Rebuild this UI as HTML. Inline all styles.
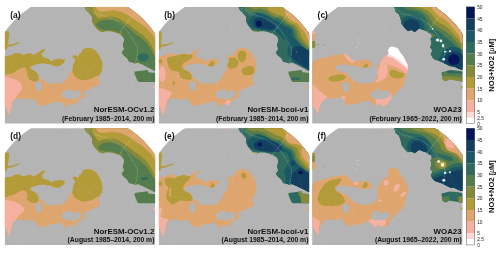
<!DOCTYPE html><html><head><meta charset="utf-8"><title>Nitrate maps</title>
<style>html,body{margin:0;padding:0;background:#fff}body{width:500px;height:253px;overflow:hidden}svg{display:block}text{font-family:"Liberation Sans",sans-serif}</style></head><body>
<svg width="500" height="253" viewBox="0 0 500 253">
<defs>
<clipPath id="pc"><circle cx="74.45" cy="76.8" r="90.75"/></clipPath>
<clipPath id="pr"><rect x="0" y="0" width="150.2" height="116.7"/></clipPath>
<clipPath id="m_a"><path d="M-2.0,49.4 L0.1,49.3 L7.2,48.2 L10.2,46.2 L15.3,46.6 L18.3,48.2 L25.3,46.2 L28.3,48.2 L32.4,46.2 L38.4,42.2 L40.4,43.2 L36.4,47.2 L38.4,50.3 L44.5,52.3 L45.5,54.3 L50.5,52.3 L55.6,51.9 L57.6,52.9 L59.9,52.1 L59.2,55.9 L56.2,58.2 L53.1,59.7 L48.6,58.9 L45.6,57.4 L43.5,57.3 L38.4,56.3 L31.4,57.3 L26.3,59.3 L25.3,61.3 L28.3,63.4 L31.4,65.0 L33.4,68.4 L34.4,72.4 L34.8,71.1 L38.4,73.1 L42.5,77.2 L48.5,76.2 L55.6,77.2 L61.6,72.1 L64.6,68.1 L63.7,66.4 L67.4,63.9 L68.2,58.2 L70.4,53.6 L68.9,51.4 L67.4,49.1 L70.4,48.4 L73.4,49.9 L74.2,46.9 L76.5,46.1 L77.6,42.6 L81.7,40.8 L86.6,41.3 L91.1,44.1 L94.9,49.1 L96.9,54.6 L97.7,59.1 L96.9,64.6 L93.7,69.4 L94.3,74.4 L95.1,78.6 L94.3,78.2 L90.1,79.3 L86.6,81.7 L82.7,82.9 L79.3,84.3 L79.9,86.9 L80.7,89.4 L77.8,91.1 L73.8,93.1 L71.1,96.3 L70.1,98.3 L64.6,96.3 L61.6,100.3 L59.6,98.3 L55.6,94.3 L51.5,95.3 L45.5,96.3 L40.4,98.3 L35.4,99.3 L32.4,96.3 L28.3,91.9 L21.3,92.3 L14.2,91.3 L10.2,92.3 L8.2,93.3 L7.2,98.3 L5.2,105.4 L4.2,108.4 L2.2,103.4 L0.1,98.3 L-2.0,98.4Z"/></clipPath>
<clipPath id="r_a"><path d="M78.9,-1.3 L80.8,3.2 L84.6,7.0 L87.1,10.1 L87.1,14.6 L89.0,18.4 L91.6,21.5 L94.1,24.0 L97.9,25.3 L100.4,24.4 L105.5,24.4 L110.5,25.6 L114.3,27.1 L117.5,29.1 L119.1,31.6 L119.2,33.9 L117.9,38.3 L119.2,42.1 L116.7,45.9 L118.6,48.4 L122.4,51.6 L124.3,55.1 L126.5,55.3 L130.6,56.5 L132.9,55.7 L137.6,57.7 L143.7,60.9 L152.1,65.1 L160.0,-5.0Z"/></clipPath>
<clipPath id="m_b"><path d="M-2.0,49.4 L0.1,49.3 L7.2,48.2 L10.2,46.2 L15.3,46.6 L18.3,48.2 L25.3,46.2 L28.3,48.2 L32.4,46.2 L38.4,42.2 L40.4,43.2 L36.4,47.2 L38.4,50.3 L44.5,52.3 L45.5,54.3 L50.5,52.3 L55.6,51.9 L57.6,52.9 L59.9,52.1 L59.2,55.9 L56.2,58.2 L53.1,59.7 L48.6,58.9 L45.6,57.4 L43.5,57.3 L38.4,56.3 L31.4,57.3 L26.3,59.3 L25.3,61.3 L28.3,63.4 L31.4,65.0 L33.4,68.4 L34.4,72.4 L34.8,71.1 L38.4,73.1 L42.5,77.2 L48.5,76.2 L55.6,77.2 L61.6,72.1 L64.6,68.1 L63.7,66.4 L67.4,63.9 L68.2,58.2 L70.4,53.6 L68.9,51.4 L67.4,49.1 L70.4,48.4 L73.4,49.9 L74.2,46.9 L76.5,46.1 L77.6,42.6 L81.7,40.8 L86.6,41.3 L91.1,44.1 L94.9,49.1 L96.9,54.6 L97.7,59.1 L96.9,64.6 L93.7,69.4 L94.3,74.4 L95.1,78.6 L94.3,78.2 L90.1,79.3 L86.6,81.7 L82.7,82.9 L79.3,84.3 L79.9,86.9 L80.7,89.4 L77.8,91.1 L73.8,93.1 L71.1,96.3 L70.1,98.3 L64.6,96.3 L61.6,100.3 L59.6,98.3 L55.6,94.3 L51.5,95.3 L45.5,96.3 L40.4,98.3 L35.4,99.3 L32.4,96.3 L28.3,91.9 L21.3,92.3 L14.2,91.3 L10.2,92.3 L8.2,93.3 L7.2,98.3 L5.2,105.4 L4.2,108.4 L2.2,103.4 L0.1,98.3 L-2.0,98.4Z"/></clipPath>
<clipPath id="r_b"><path d="M78.9,-1.3 L80.8,3.2 L84.6,7.0 L87.1,10.1 L87.1,14.6 L89.0,18.4 L91.6,21.5 L94.1,24.0 L97.9,25.3 L100.4,24.4 L105.5,24.4 L110.5,25.6 L114.3,27.1 L117.5,29.1 L119.1,31.6 L119.2,33.9 L117.9,38.3 L119.2,42.1 L116.7,45.9 L118.6,48.4 L122.4,51.6 L124.3,55.1 L126.5,55.3 L130.6,56.5 L132.9,55.7 L137.6,57.7 L143.7,60.9 L152.1,65.1 L160.0,-5.0Z"/></clipPath>
<clipPath id="m_d"><path d="M-2.0,49.4 L0.1,49.3 L7.2,48.2 L10.2,46.2 L15.3,46.6 L18.3,48.2 L25.3,46.2 L28.3,48.2 L32.4,46.2 L38.4,42.2 L40.4,43.2 L36.4,47.2 L38.4,50.3 L44.5,52.3 L45.5,54.3 L50.5,52.3 L55.6,51.9 L57.6,52.9 L59.9,52.1 L59.2,55.9 L56.2,58.2 L53.1,59.7 L48.6,58.9 L45.6,57.4 L43.5,57.3 L38.4,56.3 L31.4,57.3 L26.3,59.3 L25.3,61.3 L28.3,63.4 L31.4,65.0 L33.4,68.4 L34.4,72.4 L34.8,71.1 L38.4,73.1 L42.5,77.2 L48.5,76.2 L55.6,77.2 L61.6,72.1 L64.6,68.1 L63.7,66.4 L67.4,63.9 L68.2,58.2 L70.4,53.6 L68.9,51.4 L67.4,49.1 L70.4,48.4 L73.4,49.9 L74.2,46.9 L76.5,46.1 L77.6,42.6 L81.7,40.8 L86.6,41.3 L91.1,44.1 L94.9,49.1 L96.9,54.6 L97.7,59.1 L96.9,64.6 L93.7,69.4 L94.3,74.4 L95.1,78.6 L94.3,78.2 L90.1,79.3 L86.6,81.7 L82.7,82.9 L79.3,84.3 L79.9,86.9 L80.7,89.4 L77.8,91.1 L73.8,93.1 L71.1,96.3 L70.1,98.3 L64.6,96.3 L61.6,100.3 L59.6,98.3 L55.6,94.3 L51.5,95.3 L45.5,96.3 L40.4,98.3 L35.4,99.3 L32.4,96.3 L28.3,91.9 L21.3,92.3 L14.2,91.3 L10.2,92.3 L8.2,93.3 L7.2,98.3 L5.2,105.4 L4.2,108.4 L2.2,103.4 L0.1,98.3 L-2.0,98.4Z"/></clipPath>
<clipPath id="r_d"><path d="M78.9,-1.3 L80.8,3.2 L84.6,7.0 L87.1,10.1 L87.1,14.6 L89.0,18.4 L91.6,21.5 L94.1,24.0 L97.9,25.3 L100.4,24.4 L105.5,24.4 L110.5,25.6 L114.3,27.1 L117.5,29.1 L119.1,31.6 L119.2,33.9 L117.9,38.3 L119.2,42.1 L116.7,45.9 L118.6,48.4 L122.4,51.6 L124.3,55.1 L126.5,55.3 L130.6,56.5 L132.9,55.7 L137.6,57.7 L143.7,60.9 L152.1,65.1 L160.0,-5.0Z"/></clipPath>
<clipPath id="m_e"><path d="M-2.0,49.4 L0.1,49.3 L7.2,48.2 L10.2,46.2 L15.3,46.6 L18.3,48.2 L25.3,46.2 L28.3,48.2 L32.4,46.2 L38.4,42.2 L40.4,43.2 L36.4,47.2 L38.4,50.3 L44.5,52.3 L45.5,54.3 L50.5,52.3 L55.6,51.9 L57.6,52.9 L59.9,52.1 L59.2,55.9 L56.2,58.2 L53.1,59.7 L48.6,58.9 L45.6,57.4 L43.5,57.3 L38.4,56.3 L31.4,57.3 L26.3,59.3 L25.3,61.3 L28.3,63.4 L31.4,65.0 L33.4,68.4 L34.4,72.4 L34.8,71.1 L38.4,73.1 L42.5,77.2 L48.5,76.2 L55.6,77.2 L61.6,72.1 L64.6,68.1 L63.7,66.4 L67.4,63.9 L68.2,58.2 L70.4,53.6 L68.9,51.4 L67.4,49.1 L70.4,48.4 L73.4,49.9 L74.2,46.9 L76.5,46.1 L77.6,42.6 L81.7,40.8 L86.6,41.3 L91.1,44.1 L94.9,49.1 L96.9,54.6 L97.7,59.1 L96.9,64.6 L93.7,69.4 L94.3,74.4 L95.1,78.6 L94.3,78.2 L90.1,79.3 L86.6,81.7 L82.7,82.9 L79.3,84.3 L79.9,86.9 L80.7,89.4 L77.8,91.1 L73.8,93.1 L71.1,96.3 L70.1,98.3 L64.6,96.3 L61.6,100.3 L59.6,98.3 L55.6,94.3 L51.5,95.3 L45.5,96.3 L40.4,98.3 L35.4,99.3 L32.4,96.3 L28.3,91.9 L21.3,92.3 L14.2,91.3 L10.2,92.3 L8.2,93.3 L7.2,98.3 L5.2,105.4 L4.2,108.4 L2.2,103.4 L0.1,98.3 L-2.0,98.4Z"/></clipPath>
<clipPath id="r_e"><path d="M78.9,-1.3 L80.8,3.2 L84.6,7.0 L87.1,10.1 L87.1,14.6 L89.0,18.4 L91.6,21.5 L94.1,24.0 L97.9,25.3 L100.4,24.4 L105.5,24.4 L110.5,25.6 L114.3,27.1 L117.5,29.1 L119.1,31.6 L119.2,33.9 L117.9,38.3 L119.2,42.1 L116.7,45.9 L118.6,48.4 L122.4,51.6 L124.3,55.1 L126.5,55.3 L130.6,56.5 L132.9,55.7 L137.6,57.7 L143.7,60.9 L152.1,65.1 L160.0,-5.0Z"/></clipPath>
<clipPath id="wm"><path d="M-2.0,54.8 L0.2,54.7 L4.9,53.7 L6.9,51.5 L12.9,50.9 L18.0,49.5 L22.0,48.0 L28.0,47.6 L32.1,46.4 L35.1,48.2 L39.1,52.3 L43.2,54.3 L48.2,53.3 L52.2,52.3 L56.3,53.3 L60.3,57.3 L65.3,59.3 L68.3,55.3 L71.4,50.3 L75.8,48.2 L76.8,42.2 L80.9,41.2 L85.9,43.2 L91.0,49.3 L95.0,57.3 L96.0,62.3 L94.0,68.4 L93.0,73.4 L94.0,80.1 L93.0,74.1 L92.0,78.2 L88.9,81.2 L85.9,84.2 L82.9,87.2 L79.9,90.3 L76.8,95.3 L73.8,98.3 L70.8,99.3 L66.3,96.3 L63.3,99.3 L60.3,96.3 L56.3,93.3 L52.2,94.3 L46.2,96.3 L39.1,97.3 L35.1,98.3 L33.1,95.3 L29.0,90.7 L24.0,91.3 L18.0,91.9 L14.7,91.1 L11.9,93.1 L9.1,95.9 L7.5,100.7 L5.9,107.4 L3.5,102.8 L0.2,98.3 L-2.0,98.4Z"/></clipPath>
<clipPath id="wr"><path d="M81.3,-2.9 L83.4,4.9 L86.9,7.5 L88.6,12.8 L89.5,17.1 L93.0,21.5 L95.6,24.1 L99.1,23.2 L102.6,25.0 L106.9,21.5 L111.3,23.2 L113.8,24.0 L116.7,26.0 L119.2,27.4 L119.7,29.9 L118.2,32.4 L119.2,34.9 L119.1,37.1 L118.0,40.4 L120.2,43.7 L118.6,47.1 L120.2,50.4 L122.4,52.6 L125.8,53.7 L130.2,55.4 L133.5,57.0 L137.9,59.2 L142.4,59.8 L146.8,62.0 L153.8,63.6 L160.0,-5.0Z"/></clipPath>
<clipPath id="wk"><path d="M129.2,65.4 L137.3,63.4 L144.4,63.8 L153.4,65.4 L153.4,75.4 L137.3,72.4 L133.3,74.4 L130.2,72.4Z"/></clipPath>
<clipPath id="k_e"><path d="M129.6,64.7 L142.8,63.1 L143.5,65.4 L152.1,66.1 L152.1,75.1 L133.8,75.1 L132.4,73.7 L131.0,70.2 L129.6,66.8Z"/></clipPath>
</defs>
<g transform="translate(4.9 6.9)"><g clip-path="url(#pr)"><g clip-path="url(#pc)">
<rect x="-5" y="-5" width="170" height="130" fill="#b4b4b4"/>
<polygon points="-2.0,49.4 0.1,49.3 7.2,48.2 10.2,46.2 15.3,46.6 18.3,48.2 25.3,46.2 28.3,48.2 32.4,46.2 38.4,42.2 40.4,43.2 36.4,47.2 38.4,50.3 44.5,52.3 45.5,54.3 50.5,52.3 55.6,51.9 57.6,52.9 59.9,52.1 59.2,55.9 56.2,58.2 53.1,59.7 48.6,58.9 45.6,57.4 43.5,57.3 38.4,56.3 31.4,57.3 26.3,59.3 25.3,61.3 28.3,63.4 31.4,65.0 33.4,68.4 34.4,72.4 34.8,71.1 38.4,73.1 42.5,77.2 48.5,76.2 55.6,77.2 61.6,72.1 64.6,68.1 63.7,66.4 67.4,63.9 68.2,58.2 70.4,53.6 68.9,51.4 67.4,49.1 70.4,48.4 73.4,49.9 74.2,46.9 76.5,46.1 77.6,42.6 81.7,40.8 86.6,41.3 91.1,44.1 94.9,49.1 96.9,54.6 97.7,59.1 96.9,64.6 93.7,69.4 94.3,74.4 95.1,78.6 94.3,78.2 90.1,79.3 86.6,81.7 82.7,82.9 79.3,84.3 79.9,86.9 80.7,89.4 77.8,91.1 73.8,93.1 71.1,96.3 70.1,98.3 64.6,96.3 61.6,100.3 59.6,98.3 55.6,94.3 51.5,95.3 45.5,96.3 40.4,98.3 35.4,99.3 32.4,96.3 28.3,91.9 21.3,92.3 14.2,91.3 10.2,92.3 8.2,93.3 7.2,98.3 5.2,105.4 4.2,108.4 2.2,103.4 0.1,98.3 -2.0,98.4" fill="#dfa56e"/>
<g clip-path="url(#m_a)">
<path d="M-7.7,67.6C-6.4,74.3 -2.5,67.9 0.1,67.6C2.6,67.4 5.4,67.0 7.5,66.3C9.7,65.5 11.2,63.9 13.1,62.9C14.9,62.0 17.2,60.9 18.6,60.7C20.0,60.6 20.7,60.7 21.4,62.1C22.0,63.5 22.0,67.2 22.7,69.0C23.4,70.9 24.1,72.3 25.5,73.2C26.9,74.1 29.6,74.8 31.0,74.6C32.4,74.3 33.2,72.9 33.8,71.8C34.3,70.6 33.4,68.6 34.3,67.6C35.3,66.7 36.6,67.0 39.3,66.3C42.0,65.6 46.9,64.9 50.4,63.5C53.8,62.1 58.2,60.3 60.0,58.0C61.9,55.7 60.2,48.5 61.4,49.7C62.7,50.8 65.9,61.4 67.5,64.9C69.1,68.3 69.4,69.0 71.1,70.4C72.9,71.8 75.5,72.9 78.0,73.2C80.5,73.4 84.0,72.5 86.3,71.8C88.6,71.1 90.2,70.0 91.8,69.0C93.4,68.1 94.6,69.5 96.0,66.3C97.4,63.0 99.4,56.1 100.1,49.7C100.8,43.2 118.1,31.3 100.1,27.6C82.2,23.9 10.3,20.9 -7.7,27.6C-25.6,34.3 -9.0,61.0 -7.7,67.6Z" fill="#b39b39"/>
<path d="M-6.9,68.1C-5.7,61.2 -2.2,68.7 0.1,69.3C2.5,69.9 4.8,70.9 7.2,71.7C9.5,72.6 12.6,73.1 14.2,74.5C15.9,76.0 16.9,78.7 17.3,80.2C17.6,81.6 16.9,82.0 16.3,83.2C15.6,84.4 14.2,85.7 13.2,87.2C12.2,88.8 11.1,91.3 10.2,92.3C9.4,93.3 8.7,92.3 8.2,93.3C7.7,94.3 7.7,96.3 7.2,98.3C6.7,100.3 5.7,103.4 5.2,105.4C4.7,107.4 6.2,109.6 4.2,110.4C2.2,111.3 -5.1,117.5 -6.9,110.4C-8.8,103.4 -8.1,75.0 -6.9,68.1Z" fill="#f5b09f"/>
</g>
<polygon points="30.4,75.2 35.4,74.1 37.4,78.2 36.4,83.2 32.4,84.2 30.4,80.2" fill="#b4b4b4"/>
<polygon points="56.6,86.2 61.6,83.2 65.6,82.2 68.7,85.2 72.7,83.2 75.7,84.2 76.7,88.3 75.1,90.3 68.7,92.3 61.6,91.9 57.6,90.3" fill="#b4b4b4"/>
<polygon points="-1.9,24.3 3.7,24.3 4.4,28.1 3.5,33.1 2.7,37.7 7.1,37.5 13.9,35.0 14.7,36.1 7.4,39.0 2.5,39.9 2.0,42.5 -1.9,42.5" fill="#b39b39"/>
<g clip-path="url(#r_a)">
<rect x="60" y="-5" width="100" height="90" fill="#848a3a"/>
<path d="M86.1,-2.9C86.5,-0.6 87.8,2.0 88.6,4.0C89.4,6.0 90.2,7.6 91.1,8.9C92.0,10.2 92.8,11.6 93.9,11.9C95.0,12.2 96.4,11.1 97.9,10.7C99.4,10.3 101.1,9.6 102.9,9.5C104.7,9.4 106.9,9.7 108.9,10.1C110.9,10.5 113.1,11.2 114.9,12.0C116.7,12.8 118.3,14.1 119.9,15.1C121.5,16.1 122.8,17.1 124.3,18.2C125.8,19.3 127.2,20.5 128.8,21.7C130.4,22.9 132.7,24.3 134.1,25.3C135.5,26.3 135.8,26.7 137.1,27.7C138.3,28.7 140.2,30.0 141.6,31.5C143.0,33.0 144.3,35.0 145.4,36.6C146.5,38.2 147.2,40.0 147.9,41.4C148.6,42.8 148.7,43.6 149.4,45.1C150.1,46.6 148.7,49.3 152.1,50.1C155.5,50.9 167.0,60.1 170.0,50.1C173.0,40.1 184.0,0.0 170.0,-10.0C156.0,-20.0 100.1,-11.2 86.1,-10.0C72.1,-8.8 85.7,-5.2 86.1,-2.9Z" fill="#b39b39"/>
<path d="M89.9,-2.9C90.2,-1.0 91.0,0.4 91.7,1.6C92.4,2.8 93.0,3.5 93.9,4.0C94.8,4.5 95.7,4.6 97.1,4.7C98.5,4.8 100.2,4.6 102.1,4.4C104.0,4.2 106.1,3.6 108.3,3.7C110.5,3.7 112.9,4.1 115.1,4.7C117.3,5.3 119.8,6.6 121.7,7.5C123.6,8.4 125.1,9.3 126.3,10.1C127.5,10.8 127.2,11.0 128.7,12.0C130.2,13.0 133.2,14.8 135.3,16.3C137.4,17.8 139.6,19.6 141.3,21.1C143.0,22.6 144.3,23.9 145.6,25.3C146.8,26.7 148.0,28.0 148.8,29.7C149.6,31.5 149.8,33.6 150.4,35.8C151.0,38.0 148.8,41.9 152.1,43.1C155.4,44.3 167.0,52.0 170.0,43.1C173.0,34.2 183.3,-1.2 170.0,-10.0C156.7,-18.9 103.2,-11.2 89.9,-10.0C76.5,-8.8 89.6,-4.8 89.9,-2.9Z" fill="#dfa56e"/>
<path d="M91.3,17.7C91.4,16.9 92.2,16.1 93.2,15.4C94.2,14.8 95.6,14.1 97.3,13.7C98.9,13.2 100.9,12.8 102.9,12.8C105.0,12.7 107.2,12.8 109.3,13.3C111.3,13.8 113.5,14.7 115.4,15.6C117.2,16.5 118.7,17.7 120.2,18.7C121.7,19.8 122.6,20.5 124.3,21.9C126.0,23.3 128.8,25.7 130.6,27.1C132.4,28.5 133.8,29.0 135.4,30.3C137.0,31.6 138.9,33.3 140.4,34.9C141.9,36.5 143.0,38.0 144.2,39.7C145.4,41.4 146.6,43.5 147.5,45.1C148.4,46.7 148.7,47.6 149.6,49.1C150.5,50.6 149.7,47.3 153.1,54.1C156.5,60.9 177.2,84.0 170.0,90.0C162.8,96.0 118.9,100.1 110.0,90.0C101.1,79.9 116.1,39.7 116.9,29.1C117.6,18.5 115.6,27.0 114.6,26.2C113.5,25.4 112.1,24.7 110.5,24.2C109.0,23.7 106.9,23.4 105.5,23.3C104.1,23.1 103.7,23.4 102.3,23.3C100.9,23.2 98.8,23.0 97.3,22.5C95.7,22.0 93.8,21.1 92.8,20.3C91.8,19.5 91.2,18.5 91.3,17.7Z" fill="#547c4d"/>
<ellipse cx="138.5" cy="50.4" rx="5.4" ry="4.0" fill="#2e6b5e"/>
<g stroke="#ffffff" stroke-width="0.6" fill="none" opacity="0.45"><path stroke-dasharray="1.5 1.0" d="M84.0,5.6C78.2,-4.3 88.6,6.2 91.1,6.7C93.6,7.2 96.3,7.9 99.0,8.8C101.7,9.7 104.8,10.9 107.1,11.9C109.4,12.9 111.2,13.8 113.0,15.0C114.8,16.2 116.4,17.2 118.1,18.9C119.8,20.6 121.3,22.6 123.1,25.1C124.8,27.6 127.1,31.5 128.6,34.1C130.1,36.7 131.4,38.8 132.1,40.6C132.8,42.4 132.7,43.0 132.6,45.1C132.5,47.2 131.9,50.6 131.3,53.1C130.7,55.6 129.9,57.9 129.0,60.0C128.1,62.1 133.5,75.1 126.0,66.0" fill="none"/><line stroke-dasharray="1.4 1.0" x1="86.8" y1="61.0" x2="160.6" y2="-33.5"/></g>
</g>
<polygon points="129.6,64.7 142.8,63.1 143.5,65.4 152.1,66.1 152.1,75.1 133.8,75.1 132.4,73.7 131.0,70.2 129.6,66.8" fill="#547c4d"/>
<polygon points="147.7,79.2 150.7,79.2 150.7,82.2 148.7,82.2" fill="#f5b09f"/>
<g stroke="#ffffff" stroke-width="0.5" fill="none" opacity="0.16" stroke-dasharray="1.3 0.9">
<circle cx="74.5" cy="76.8" r="17.0"/>
<circle cx="74.5" cy="76.8" r="34.3"/>
<circle cx="74.5" cy="76.8" r="52.1"/>
<circle cx="74.5" cy="76.8" r="70.8"/>
<line x1="74.2" y1="68.8" x2="69.6" y2="-63.1"/>
<line x1="79.4" y1="70.5" x2="160.6" y2="-33.5"/>
<line x1="82.3" y1="75.1" x2="211.4" y2="47.7"/>
<line x1="81.5" y1="80.6" x2="198.1" y2="142.5"/>
<line x1="77.4" y1="84.2" x2="126.9" y2="206.6"/>
<line x1="72.0" y1="84.4" x2="31.2" y2="209.9"/>
<line x1="67.7" y1="81.0" x2="-44.3" y2="151.0"/>
<line x1="66.5" y1="75.7" x2="-64.2" y2="57.3"/>
<line x1="69.1" y1="70.9" x2="-19.2" y2="-27.2"/>
</g>
</g></g>
<text x="5.4" y="11.1" font-size="8.4" font-weight="bold" fill="#111">(a)</text>
<text transform="translate(149.4 105.5) scale(1.053 1)" font-size="7.5" font-weight="bold" text-anchor="end" fill="#111">NorESM-OCv1.2</text>
<text transform="translate(149.5 113.9) scale(1.046 1)" font-size="6.5" font-weight="bold" text-anchor="end" fill="#111">(February 1985<tspan font-size="4.9" dx="0.3" dy="-0.5">−</tspan><tspan dx="0.3" dy="0.5">2014</tspan>, 200 m)</text>
</g>
<g transform="translate(158.9 6.9)"><g clip-path="url(#pr)"><g clip-path="url(#pc)">
<rect x="-5" y="-5" width="170" height="130" fill="#b4b4b4"/>
<polygon points="-2.0,49.4 0.1,49.3 7.2,48.2 10.2,46.2 15.3,46.6 18.3,48.2 25.3,46.2 28.3,48.2 32.4,46.2 38.4,42.2 40.4,43.2 36.4,47.2 38.4,50.3 44.5,52.3 45.5,54.3 50.5,52.3 55.6,51.9 57.6,52.9 59.9,52.1 59.2,55.9 56.2,58.2 53.1,59.7 48.6,58.9 45.6,57.4 43.5,57.3 38.4,56.3 31.4,57.3 26.3,59.3 25.3,61.3 28.3,63.4 31.4,65.0 33.4,68.4 34.4,72.4 34.8,71.1 38.4,73.1 42.5,77.2 48.5,76.2 55.6,77.2 61.6,72.1 64.6,68.1 63.7,66.4 67.4,63.9 68.2,58.2 70.4,53.6 68.9,51.4 67.4,49.1 70.4,48.4 73.4,49.9 74.2,46.9 76.5,46.1 77.6,42.6 81.7,40.8 86.6,41.3 91.1,44.1 94.9,49.1 96.9,54.6 97.7,59.1 96.9,64.6 93.7,69.4 94.3,74.4 95.1,78.6 94.3,78.2 90.1,79.3 86.6,81.7 82.7,82.9 79.3,84.3 79.9,86.9 80.7,89.4 77.8,91.1 73.8,93.1 71.1,96.3 70.1,98.3 64.6,96.3 61.6,100.3 59.6,98.3 55.6,94.3 51.5,95.3 45.5,96.3 40.4,98.3 35.4,99.3 32.4,96.3 28.3,91.9 21.3,92.3 14.2,91.3 10.2,92.3 8.2,93.3 7.2,98.3 5.2,105.4 4.2,108.4 2.2,103.4 0.1,98.3 -2.0,98.4" fill="#dfa56e"/>
<g clip-path="url(#m_b)">
<path d="M8.2,51.3C9.0,49.9 12.2,49.8 14.2,49.3C16.3,48.7 18.3,48.6 20.3,48.2C22.3,47.8 24.1,46.8 26.3,46.8C28.5,46.8 32.4,47.5 33.4,48.2C34.4,49.0 33.2,50.3 32.4,51.3C31.5,52.3 29.7,53.4 28.3,54.3C27.0,55.1 25.2,55.3 24.3,56.3C23.5,57.3 23.0,59.2 23.3,60.3C23.6,61.5 25.2,62.5 26.3,63.4C27.5,64.2 29.3,64.5 30.4,65.4C31.4,66.2 32.0,67.2 32.4,68.4C32.7,69.6 33.4,71.8 32.4,72.4C31.4,73.1 28.2,72.8 26.3,72.4C24.5,72.1 22.3,71.6 21.3,70.4C20.3,69.2 21.1,66.4 20.3,65.4C19.4,64.4 17.8,64.9 16.3,64.4C14.7,63.9 12.4,63.5 11.2,62.3C10.0,61.2 9.7,59.2 9.2,57.3C8.7,55.5 7.4,52.6 8.2,51.3Z" fill="#b39b39"/>
<path d="M49.5,59.3C49.2,58.5 51.5,55.0 52.5,54.3C53.5,53.6 55.2,54.5 55.5,55.3C55.9,56.1 55.5,58.7 54.5,59.3C53.5,60.0 49.8,60.2 49.5,59.3Z" fill="#b39b39"/>
<path d="M79.2,46.2C79.8,44.8 81.8,43.6 83.2,43.6C84.5,43.6 86.6,44.8 87.2,46.2C87.8,47.7 87.5,50.8 86.8,52.3C86.1,53.8 84.4,55.3 83.2,55.3C82.0,55.3 80.2,53.8 79.6,52.3C78.9,50.8 78.6,47.7 79.2,46.2Z" fill="#b39b39"/>
<path d="M83.2,62.3C83.9,61.0 86.4,59.7 88.2,59.3C90.1,59.0 93.1,59.3 94.3,60.3C95.4,61.3 96.0,64.0 95.3,65.4C94.6,66.7 92.1,68.1 90.2,68.4C88.4,68.7 85.4,68.4 84.2,67.4C83.0,66.4 82.5,63.7 83.2,62.3Z" fill="#b39b39"/>
<path d="M69.1,52.3C70.1,50.7 73.5,50.5 75.1,50.9C76.8,51.2 78.7,52.9 79.2,54.3C79.7,55.7 79.2,58.1 78.2,59.3C77.1,60.6 74.6,61.6 73.1,61.7C71.6,61.9 69.8,61.9 69.1,60.3C68.4,58.8 68.1,53.9 69.1,52.3Z" fill="#b39b39"/>
<ellipse cx="3.3" cy="67.1" rx="3.6" ry="7.7" fill="#f5b09f"/>
<polygon points="-1.9,52.3 3.2,52.3 3.2,56.3 -1.9,56.3" fill="#b39b39"/>
<path d="M-3.9,80.2C-3.2,75.3 -1.4,80.9 0.1,81.2C1.6,81.5 3.2,81.5 5.2,82.2C7.2,82.9 11.0,84.2 12.2,85.2C13.4,86.2 12.7,87.1 12.2,88.3C11.7,89.4 10.0,90.6 9.2,92.3C8.4,94.0 7.9,95.3 7.2,98.3C6.5,101.3 7.0,108.4 5.2,110.4C3.3,112.4 -2.4,115.5 -3.9,110.4C-5.4,105.4 -4.6,85.1 -3.9,80.2Z" fill="#f5b09f"/>
<path d="M65.6,96.3C65.9,95.3 67.6,93.6 68.6,93.3C69.7,93.0 71.3,93.5 71.7,94.3C72.1,95.1 71.8,97.5 71.1,98.3C70.3,99.2 67.9,99.7 67.0,99.3C66.1,99.0 65.4,97.3 65.6,96.3Z" fill="#f5b09f"/>
<polygon points="13.8,74.1 15.8,74.1 15.8,78.2 13.8,78.2" fill="#b39b39"/>
</g>
<polygon points="30.4,75.2 35.4,74.1 37.4,78.2 36.4,83.2 32.4,84.2 30.4,80.2" fill="#b4b4b4"/>
<polygon points="56.6,86.2 61.6,83.2 65.6,82.2 68.7,85.2 72.7,83.2 75.7,84.2 76.7,88.3 75.1,90.3 68.7,92.3 61.6,91.9 57.6,90.3" fill="#b4b4b4"/>
<polygon points="-1.9,24.3 2.7,24.3 3.0,28.1 2.5,33.1 2.1,37.9 7.1,37.5 13.9,35.0 14.7,36.1 7.4,39.0 2.1,39.9 1.7,42.5 -1.9,42.5" fill="#b39b39"/>
<g clip-path="url(#r_b)">
<rect x="60" y="-5" width="100" height="90" fill="#2e6b5e"/>
<path d="M89.6,14.6C89.9,13.4 90.6,12.1 92.1,10.8C93.6,9.4 96.3,6.9 98.4,6.3C100.5,5.8 102.6,6.9 104.7,7.6C106.9,8.3 109.8,9.9 111.1,10.8C112.4,11.6 111.4,12.1 112.5,12.7C113.6,13.2 116.1,13.4 117.6,13.9C119.0,14.5 120.1,15.0 121.4,15.8C122.6,16.7 123.8,18.1 125.2,19.0C126.5,19.8 128.3,20.1 129.6,20.9C130.8,21.6 132.1,22.4 132.7,23.4C133.4,24.5 133.1,26.1 133.4,27.2C133.6,28.3 133.5,29.1 134.3,30.1C135.0,31.1 136.4,32.1 137.8,33.2C139.2,34.4 141.4,36.0 142.9,37.0C144.3,38.1 144.8,38.7 146.7,39.6C148.6,40.4 153.0,38.5 154.3,42.1C155.5,45.7 154.9,57.4 154.3,61.1C153.7,64.8 152.5,64.6 150.7,64.4C148.9,64.1 145.8,61.0 143.6,59.7C141.5,58.5 139.6,57.9 137.6,56.7C135.6,55.5 133.1,54.6 131.6,52.7C130.0,50.8 128.8,47.8 128.5,45.2C128.3,42.6 129.9,39.7 129.9,37.2C129.9,34.6 128.2,29.0 128.5,30.1C128.9,31.2 131.6,42.4 132.1,44.0C132.6,45.6 132.1,41.0 131.5,39.6C130.8,38.1 129.6,36.5 128.3,35.1C127.0,33.8 125.9,33.2 123.9,31.3C121.9,29.5 118.3,25.3 116.1,24.0C114.0,22.8 112.8,24.2 111.1,24.0C109.4,23.9 108.1,23.7 106.0,23.4C103.9,23.1 100.5,22.6 98.4,22.2C96.3,21.7 94.7,21.6 93.4,20.9C92.0,20.1 90.8,18.8 90.2,17.7C89.6,16.7 89.2,15.7 89.6,14.6Z" fill="#1a5963"/>
<path d="M95.3,12.7C96.4,11.3 100.0,10.0 102.2,10.1C104.4,10.2 106.4,12.1 108.5,13.3C110.7,14.5 113.5,15.9 114.9,17.1C116.2,18.2 116.9,19.3 116.5,20.3C116.1,21.2 114.1,22.5 112.3,22.8C110.6,23.1 108.3,22.5 106.0,22.2C103.7,21.8 100.2,21.5 98.4,20.9C96.6,20.3 95.8,19.7 95.3,18.4C94.7,17.0 94.1,14.0 95.3,12.7Z" fill="#123f5f"/>
<ellipse cx="100.0" cy="16.9" rx="2.8" ry="3.0" fill="#041659"/>
<path d="M132.8,46.1C132.9,44.8 132.8,43.3 133.3,42.3C133.8,41.3 134.6,40.4 135.8,39.9C137.0,39.4 139.1,39.2 140.7,39.4C142.4,39.6 143.6,40.3 145.7,40.9C147.8,41.5 151.8,39.5 153.1,43.1C154.4,46.7 155.3,59.9 153.7,62.4C152.1,64.9 146.3,59.7 143.6,58.3C140.9,57.0 139.4,55.6 137.6,54.3C135.8,53.0 133.4,51.7 132.6,50.3C131.8,48.9 132.7,47.4 132.8,46.1Z" fill="#123f5f"/>
<ellipse cx="137.7" cy="44.7" rx="0.9" ry="0.9" fill="#55508c"/>
<path d="M84.5,-1.3C84.9,1.0 85.8,2.6 87.0,3.8C88.3,5.0 90.2,5.7 92.1,5.9C94.0,6.2 96.3,4.9 98.4,5.1C100.5,5.2 103.0,6.2 104.7,6.7C106.5,7.2 107.2,7.6 108.7,8.2C110.2,8.9 111.9,10.1 113.8,10.8C115.7,11.4 118.5,11.4 120.1,12.0C121.7,12.7 122.2,13.6 123.3,14.6C124.3,15.5 125.2,16.9 126.4,17.7C127.7,18.6 129.6,18.9 130.8,19.6C132.1,20.4 133.2,21.0 134.0,22.2C134.9,23.3 135.5,25.3 135.9,26.6C136.3,27.9 136.0,28.8 136.5,30.1C137.1,31.4 137.8,32.9 139.1,34.5C140.3,36.1 142.0,38.0 144.1,39.6C146.2,41.1 147.4,43.2 151.7,44.0C156.0,44.7 167.0,53.0 170.0,44.0C173.0,35.0 184.3,-1.0 170.0,-10.0C155.7,-19.0 98.7,-11.5 84.5,-10.0C70.2,-8.5 84.1,-3.6 84.5,-1.3Z" fill="#547c4d"/>
<path d="M89.6,-1.3C90.4,0.8 92.7,2.0 94.6,2.5C96.5,3.1 99.3,1.8 100.9,1.9C102.6,2.0 103.7,2.8 104.7,3.2C105.8,3.5 106.2,3.1 107.4,3.8C108.6,4.5 110.2,6.5 111.9,7.6C113.5,8.6 115.8,9.6 117.6,10.1C119.3,10.7 121.4,10.2 122.6,10.8C123.9,11.3 124.2,12.3 125.2,13.3C126.1,14.2 127.0,15.6 128.3,16.5C129.6,17.3 131.6,17.7 132.7,18.4C133.9,19.0 134.4,19.2 135.3,20.3C136.1,21.3 137.2,23.0 137.8,24.7C138.4,26.3 138.4,28.7 139.1,30.1C139.7,31.5 140.6,32.0 141.6,33.2C142.7,34.5 143.7,36.2 145.4,37.7C147.1,39.1 147.6,41.3 151.7,42.1C155.8,42.8 167.0,50.8 170.0,42.1C173.0,33.4 183.4,-1.3 170.0,-10.0C156.6,-18.7 103.0,-11.5 89.6,-10.0C76.1,-8.5 88.7,-3.4 89.6,-1.3Z" fill="#848a3a"/>
<path d="M108.1,-1.3C108.4,0.9 109.0,2.0 110.0,3.2C110.9,4.3 112.3,4.9 113.8,5.7C115.2,6.5 117.2,7.7 118.8,8.2C120.4,8.8 122.1,8.4 123.3,8.9C124.4,9.3 124.9,9.9 125.8,10.8C126.6,11.6 127.2,13.0 128.3,13.9C129.5,14.9 131.4,15.7 132.7,16.5C134.1,17.2 135.5,17.4 136.5,18.4C137.6,19.3 138.3,20.9 139.1,22.2C139.8,23.4 140.3,24.6 141.0,25.9C141.6,27.3 142.2,28.9 142.9,30.1C143.5,31.3 143.9,32.1 144.8,33.2C145.6,34.4 146.8,35.9 147.9,37.0C149.1,38.2 148.1,39.7 151.7,40.2C155.4,40.7 167.0,48.6 170.0,40.2C173.0,31.8 180.3,-1.6 170.0,-10.0C159.7,-18.4 118.4,-11.5 108.1,-10.0C97.7,-8.5 107.7,-3.5 108.1,-1.3Z" fill="#b39b39"/>
<path d="M123.3,-1.3C123.7,1.0 125.2,2.2 125.8,3.8C126.4,5.4 126.2,6.9 127.0,8.2C127.9,9.6 129.5,10.9 130.8,12.0C132.2,13.2 133.9,14.3 135.3,15.2C136.6,16.0 138.0,16.2 139.1,17.1C140.1,17.9 140.8,19.2 141.6,20.3C142.5,21.3 143.3,22.3 144.1,23.4C145.0,24.6 146.0,26.1 146.7,27.2C147.3,28.3 147.6,29.3 147.9,30.1C148.3,30.9 147.9,31.1 148.6,32.0C149.2,32.8 148.2,34.6 151.7,35.1C155.3,35.7 167.0,42.6 170.0,35.1C173.0,27.6 177.8,-2.5 170.0,-10.0C162.2,-17.5 131.0,-11.5 123.3,-10.0C115.5,-8.5 122.8,-3.6 123.3,-1.3Z" fill="#dfa56e"/>
<polygon points="93.4,23.8 98.4,23.8 98.4,25.4 93.4,25.4" fill="#b39b39"/>
<g stroke="#ffffff" stroke-width="0.6" fill="none" opacity="0.45"><path stroke-dasharray="1.5 1.0" d="M84.0,5.6C78.2,-4.3 88.6,6.2 91.1,6.7C93.6,7.2 96.3,7.9 99.0,8.8C101.7,9.7 104.8,10.9 107.1,11.9C109.4,12.9 111.2,13.8 113.0,15.0C114.8,16.2 116.4,17.2 118.1,18.9C119.8,20.6 121.3,22.6 123.1,25.1C124.8,27.6 127.1,31.5 128.6,34.1C130.1,36.7 131.4,38.8 132.1,40.6C132.8,42.4 132.7,43.0 132.6,45.1C132.5,47.2 131.9,50.6 131.3,53.1C130.7,55.6 129.9,57.9 129.0,60.0C128.1,62.1 133.5,75.1 126.0,66.0" fill="none"/><line stroke-dasharray="1.4 1.0" x1="86.8" y1="61.0" x2="160.6" y2="-33.5"/></g>
</g>
<polygon points="129.6,64.7 142.8,63.1 143.5,65.4 152.1,66.1 152.1,75.1 133.8,75.1 132.4,73.7 131.0,70.2 129.6,66.8" fill="#547c4d"/>
<ellipse cx="136.7" cy="71.9" rx="4.5" ry="1.2" fill="#2e6b5e"/>
<polygon points="147.7,79.2 150.7,79.2 150.7,82.2 148.7,82.2" fill="#dfa56e"/>
<g stroke="#ffffff" stroke-width="0.5" fill="none" opacity="0.16" stroke-dasharray="1.3 0.9">
<circle cx="74.5" cy="76.8" r="17.0"/>
<circle cx="74.5" cy="76.8" r="34.3"/>
<circle cx="74.5" cy="76.8" r="52.1"/>
<circle cx="74.5" cy="76.8" r="70.8"/>
<line x1="74.2" y1="68.8" x2="69.6" y2="-63.1"/>
<line x1="79.4" y1="70.5" x2="160.6" y2="-33.5"/>
<line x1="82.3" y1="75.1" x2="211.4" y2="47.7"/>
<line x1="81.5" y1="80.6" x2="198.1" y2="142.5"/>
<line x1="77.4" y1="84.2" x2="126.9" y2="206.6"/>
<line x1="72.0" y1="84.4" x2="31.2" y2="209.9"/>
<line x1="67.7" y1="81.0" x2="-44.3" y2="151.0"/>
<line x1="66.5" y1="75.7" x2="-64.2" y2="57.3"/>
<line x1="69.1" y1="70.9" x2="-19.2" y2="-27.2"/>
</g>
</g></g>
<text x="5.4" y="11.1" font-size="8.4" font-weight="bold" fill="#111">(b)</text>
<text transform="translate(149.4 105.5) scale(1.053 1)" font-size="7.5" font-weight="bold" text-anchor="end" fill="#111">NorESM-bcoi-v1</text>
<text transform="translate(149.5 113.9) scale(1.046 1)" font-size="6.5" font-weight="bold" text-anchor="end" fill="#111">(February 1985<tspan font-size="4.9" dx="0.3" dy="-0.5">−</tspan><tspan dx="0.3" dy="0.5">2014</tspan>, 200 m)</text>
</g>
<g transform="translate(312.2 6.9)"><g clip-path="url(#pr)"><g clip-path="url(#pc)">
<rect x="-5" y="-5" width="170" height="130" fill="#b4b4b4"/>
<polygon points="-2.0,54.8 0.2,54.7 4.9,53.7 6.9,51.5 12.9,50.9 18.0,49.5 22.0,48.0 28.0,47.6 32.1,46.4 35.1,48.2 39.1,52.3 43.2,54.3 48.2,53.3 52.2,52.3 56.3,53.3 60.3,57.3 65.3,59.3 68.3,55.3 71.4,50.3 75.8,48.2 76.8,42.2 80.9,41.2 85.9,43.2 91.0,49.3 95.0,57.3 96.0,62.3 94.0,68.4 93.0,73.4 94.0,80.1 93.0,74.1 92.0,78.2 88.9,81.2 85.9,84.2 82.9,87.2 79.9,90.3 76.8,95.3 73.8,98.3 70.8,99.3 66.3,96.3 63.3,99.3 60.3,96.3 56.3,93.3 52.2,94.3 46.2,96.3 39.1,97.3 35.1,98.3 33.1,95.3 29.0,90.7 24.0,91.3 18.0,91.9 14.7,91.1 11.9,93.1 9.1,95.9 7.5,100.7 5.9,107.4 3.5,102.8 0.2,98.3 -2.0,98.4" fill="#dfa56e"/>
<g clip-path="url(#wm)">
<path d="M31.1,45.2C31.2,44.5 33.8,46.6 35.1,47.6C36.4,48.7 37.7,50.6 39.1,51.7C40.6,52.8 43.8,53.6 43.8,54.3C43.8,55.0 40.7,56.1 39.1,55.7C37.5,55.3 35.4,53.4 34.1,51.7C32.7,49.9 30.9,45.9 31.1,45.2Z" fill="#f5b09f"/>
<ellipse cx="24.9" cy="71.1" rx="8.7" ry="3.4" fill="#b39b39" transform="rotate(-8 24.9 71.1)"/>
<path d="M51.2,60.3C51.0,59.7 52.5,57.3 53.2,56.9C54.0,56.5 55.4,57.1 55.6,57.7C55.9,58.3 55.4,60.1 54.6,60.5C53.9,61.0 51.5,60.9 51.2,60.3Z" fill="#b39b39"/>
<path d="M-4.2,74.1C-3.5,68.6 -1.5,75.8 0.0,77.0C1.5,78.2 3.2,79.9 4.9,81.4C6.5,82.9 8.1,84.6 9.9,86.2C11.7,87.8 15.0,89.7 15.5,91.1C16.1,92.4 14.0,93.3 12.9,94.3C11.8,95.3 9.8,96.0 8.9,97.3C8.0,98.7 7.9,100.2 7.5,102.4C7.1,104.5 8.2,109.1 6.3,110.4C4.3,111.8 -2.5,116.5 -4.2,110.4C-5.9,104.4 -4.9,79.7 -4.2,74.1Z" fill="#f5b09f"/>
<path d="M64.3,88.3C65.5,87.1 68.0,87.6 70.4,87.2C72.7,86.9 77.1,84.4 78.4,86.2C79.8,88.1 80.4,96.1 78.4,98.3C76.4,100.5 68.8,100.0 66.3,99.3C63.8,98.7 63.6,96.1 63.3,94.3C63.0,92.4 63.1,89.4 64.3,88.3Z" fill="#f5b09f"/>
<polygon points="29.0,89.3 33.1,89.3 33.1,93.3 29.0,93.3" fill="#f5b09f"/>
<path d="M65.9,70.6C66.2,68.9 64.6,67.0 64.8,65.2C65.0,63.4 66.6,62.2 67.3,59.9C68.0,57.5 68.4,52.9 69.2,51.1C69.9,49.3 70.7,49.8 71.8,49.1C72.9,48.4 75.2,45.8 75.8,47.1C76.4,48.5 75.4,54.2 75.3,57.2C75.2,60.2 75.5,63.0 75.3,65.2C75.1,67.4 74.8,69.2 73.9,70.6C73.0,71.9 71.2,72.6 69.9,73.3C68.6,74.0 67.1,74.2 65.9,74.6C64.7,75.0 62.8,76.3 62.8,75.6C62.8,74.9 65.6,72.3 65.9,70.6Z" fill="#f5b09f"/>
<path d="M72.8,45.1C72.9,42.0 73.3,39.3 75.8,38.1C78.3,36.9 84.1,35.6 87.8,38.1C91.5,40.6 96.3,48.6 97.8,53.1C99.3,57.6 97.5,62.9 96.8,65.1C96.1,67.3 94.8,66.7 93.4,66.3C92.1,65.9 90.6,64.0 88.7,62.9C86.8,61.8 84.2,60.6 82.0,59.6C79.8,58.6 76.8,59.1 75.3,56.7C73.8,54.3 72.7,48.2 72.8,45.1Z" fill="#f5b09f"/>
<path d="M73.8,45.1C73.8,43.1 73.5,39.3 75.8,38.1C78.1,36.9 84.1,35.6 87.8,38.1C91.5,40.6 96.3,49.1 97.8,53.1C99.3,57.1 97.4,60.7 96.8,62.1C96.2,63.5 95.3,62.2 94.4,61.7C93.5,61.2 92.6,60.0 91.4,59.1C90.3,58.2 88.8,57.1 87.5,56.1C86.2,55.1 84.8,54.0 83.5,53.1C82.2,52.2 80.9,51.2 79.6,50.7C78.3,50.2 76.8,51.0 75.8,50.1C74.8,49.2 73.8,47.1 73.8,45.1Z" fill="#fdd9d6"/>
<path d="M76.4,48.3C76.5,47.8 76.8,46.3 77.0,45.1C77.2,43.9 77.2,41.1 77.5,40.9C77.8,40.7 78.1,43.4 78.7,43.7C79.2,44.0 79.9,43.0 80.8,42.5C81.7,42.0 82.9,40.8 84.0,40.9C85.1,41.0 86.4,42.1 87.5,43.0C88.6,43.9 89.5,44.7 90.5,46.0C91.5,47.3 92.4,49.4 93.4,50.9C94.4,52.4 95.7,53.5 96.4,54.9C97.1,56.3 98.1,58.6 97.8,59.3C97.5,60.0 95.5,59.7 94.4,59.3C93.3,58.9 92.6,57.8 91.4,56.9C90.3,56.0 88.8,54.9 87.5,53.9C86.2,52.9 84.8,51.8 83.5,50.9C82.2,50.0 80.8,49.0 79.6,48.5C78.5,48.0 77.1,48.0 76.6,48.0C76.1,48.0 76.3,48.8 76.4,48.3Z" fill="#ffffff"/>
<path d="M78.0,63.9C78.7,63.1 80.5,63.0 82.0,63.2C83.5,63.4 85.1,64.6 86.7,65.2C88.3,65.8 90.7,65.7 91.4,66.6C92.1,67.5 91.8,69.8 90.7,70.6C89.6,71.4 86.5,71.3 84.7,71.3C82.9,71.3 81.2,71.2 80.0,70.6C78.8,70.0 78.0,69.0 77.7,67.9C77.4,66.8 77.3,64.7 78.0,63.9Z" fill="#b39b39"/>
</g>
<polygon points="23.0,59.3 28.0,57.3 36.1,58.3 44.2,59.3 52.2,61.3 60.3,59.3 65.3,63.4 65.3,69.4 62.3,74.4 56.3,76.5 48.2,76.5 42.1,74.4 38.1,70.4 34.1,66.4 28.0,64.4 24.0,62.3" fill="#b4b4b4"/>
<polygon points="60.6,49.1 67.3,49.1 66.4,55.1 64.8,61.1 64.3,65.1 60.6,64.1" fill="#b4b4b4"/>
<polygon points="30.1,76.2 35.1,75.2 37.1,79.2 36.1,84.2 32.1,85.2 30.1,81.2" fill="#b4b4b4"/>
<polygon points="58.3,87.2 62.3,83.2 66.3,82.2 69.4,85.2 73.4,83.2 76.4,84.2 78.4,88.3 75.8,90.3 69.4,92.3 62.3,91.9 59.3,90.3" fill="#b4b4b4"/>
<polygon points="-1.0,24.3 2.6,24.3 2.8,27.1 -1.0,27.1" fill="#f5b09f"/>
<polygon points="-1.0,27.1 2.8,27.1 2.6,34.1 -1.0,34.1" fill="#dfa56e"/>
<polygon points="-1.0,34.1 2.6,34.1 3.4,38.0 2.4,41.2 -1.0,41.2" fill="#848a3a"/>
<polygon points="5.5,37.2 6.6,37.2 6.6,38.4 5.5,38.4" fill="#848a3a"/>
<polygon points="11.5,37.4 12.7,37.4 12.7,38.6 11.5,38.6" fill="#b39b39"/>
<g clip-path="url(#wr)">
<rect x="60" y="-5" width="100" height="90" fill="#2e6b5e"/>
<rect x="60" y="-5" width="100" height="90" fill="#547c4d"/>
<path d="M72.8,-6.9C75.5,-12.8 85.2,-4.0 88.8,-2.4C92.4,-0.9 92.2,1.4 94.3,2.4C96.4,3.4 99.1,3.1 101.3,3.6C103.5,4.1 105.6,4.6 107.3,5.5C109.1,6.4 110.7,7.7 111.8,8.9C112.9,10.1 113.5,11.2 114.1,12.6C114.7,14.0 115.1,15.8 115.6,17.1C116.1,18.4 116.5,19.9 117.3,20.6C118.1,21.4 119.2,21.2 120.3,21.6C121.4,22.0 122.4,22.4 123.8,23.1C125.2,23.9 127.5,25.1 128.8,26.1C130.1,27.1 132.3,28.4 131.8,29.1C131.3,29.8 127.8,30.6 125.8,30.1C123.8,29.6 122.3,27.1 119.8,26.1C117.3,25.1 113.6,23.6 110.8,24.1C108.0,24.6 106.6,27.6 102.8,29.1C99.0,30.6 92.8,32.4 87.8,33.1C82.8,33.8 75.3,39.8 72.8,33.1C70.3,26.4 70.1,-1.0 72.8,-6.9Z" fill="#2e6b5e"/>
<path d="M88.6,16.3C88.5,14.7 89.1,13.1 90.4,11.9C91.7,10.7 94.1,9.3 96.5,8.9C98.8,8.6 102.1,8.9 104.3,9.6C106.5,10.4 108.3,12.1 109.5,13.6C110.8,15.2 111.4,17.3 111.8,18.9C112.2,20.5 112.6,22.6 111.8,23.2C111.0,23.8 108.6,21.9 106.9,22.3C105.2,22.8 103.6,25.4 101.7,25.8C99.8,26.3 97.3,25.7 95.6,25.0C93.9,24.2 92.4,22.9 91.2,21.5C90.1,20.0 88.8,17.9 88.6,16.3Z" fill="#1a5963"/>
<path d="M91.2,18.9C91.2,17.7 91.8,15.6 93.0,14.5C94.1,13.4 96.3,12.6 98.2,12.4C100.1,12.3 102.9,12.9 104.3,13.6C105.8,14.4 106.4,15.8 106.9,17.1C107.4,18.4 108.0,20.2 107.3,21.5C106.5,22.7 103.9,24.3 102.6,24.6C101.2,24.9 100.2,23.3 99.1,23.2C97.9,23.1 96.6,24.4 95.6,24.1C94.6,23.8 93.7,22.3 93.0,21.5C92.3,20.6 91.2,20.0 91.2,18.9Z" fill="#123f5f"/>
<path d="M115.8,33.1C117.1,31.0 119.0,31.3 120.3,30.6C121.6,29.9 122.5,29.4 123.8,29.1C125.1,28.8 126.8,28.7 128.3,28.9C129.8,29.1 131.6,29.6 132.8,30.1C134.1,30.6 134.8,31.3 135.8,32.1C136.8,32.9 137.9,33.8 138.8,34.7C139.8,35.6 140.6,36.5 141.5,37.4C142.4,38.3 143.3,39.3 144.1,40.3C144.9,41.3 145.7,42.3 146.4,43.3C147.1,44.3 147.1,44.8 148.3,46.1C149.5,47.4 152.2,46.6 153.8,51.1C155.4,55.6 165.5,69.4 157.8,73.1C150.1,76.8 115.3,78.1 107.8,73.1C100.3,68.1 111.5,49.8 112.8,43.1C114.1,36.4 114.6,35.2 115.8,33.1Z" fill="#2e6b5e"/>
<path d="M126.9,53.7C127.0,49.6 127.6,50.0 128.5,48.2C129.4,46.5 130.8,44.5 132.4,43.2C134.0,41.9 135.9,40.9 137.9,40.4C139.9,39.9 142.6,39.9 144.6,40.4C146.7,40.9 148.3,42.1 150.2,43.2C152.1,44.3 154.5,42.1 155.8,47.1C157.1,52.1 162.5,68.8 157.8,73.1C153.1,77.4 133.0,76.3 127.8,73.1C122.7,69.9 126.8,57.9 126.9,53.7Z" fill="#1a5963"/>
<path d="M131.3,56.5C131.2,52.7 131.6,52.1 132.4,50.4C133.2,48.6 134.7,47.0 136.3,46.0C137.9,45.0 140.0,44.3 141.8,44.3C143.7,44.3 146.0,45.3 147.4,46.0C148.8,46.7 148.8,47.5 150.2,48.7C151.6,49.9 154.5,49.0 155.8,53.1C157.1,57.2 161.6,69.8 157.8,73.1C154.0,76.4 137.2,75.9 132.8,73.1C128.4,70.3 131.4,60.3 131.3,56.5Z" fill="#123f5f"/>
<ellipse cx="141.7" cy="52.7" rx="5.7" ry="5.5" fill="#041659"/>
<path d="M97.3,-2.4C98.2,-0.5 100.9,0.7 102.8,1.7C104.7,2.7 107.0,2.6 108.8,3.4C110.6,4.2 112.4,5.5 113.8,6.6C115.2,7.7 116.2,8.8 117.1,10.1C118.0,11.4 118.5,13.0 119.3,14.3C120.1,15.6 120.7,16.9 121.8,17.9C122.9,18.9 124.6,19.6 125.8,20.3C127.1,21.0 128.1,21.6 129.3,22.3C130.6,23.0 132.0,23.8 133.3,24.7C134.6,25.6 136.1,26.6 137.3,27.6C138.5,28.6 139.4,29.6 140.3,30.6C141.2,31.6 142.0,32.6 142.8,33.6C143.6,34.6 144.4,35.7 145.2,36.7C146.0,37.8 146.8,38.8 147.5,39.9C148.2,41.0 148.7,42.1 149.4,43.3C150.1,44.5 148.4,46.5 151.8,47.1C155.2,47.7 167.0,56.6 170.0,47.1C173.0,37.6 182.1,-0.5 170.0,-10.0C157.9,-19.5 109.4,-11.3 97.3,-10.0C85.2,-8.7 96.4,-4.4 97.3,-2.4Z" fill="#848a3a"/>
<path d="M105.3,-2.4C106.1,-0.5 108.7,0.5 110.3,1.4C111.9,2.4 113.4,2.4 114.8,3.3C116.2,4.2 117.6,5.5 118.8,6.7C120.0,7.9 120.9,9.4 121.8,10.6C122.7,11.8 123.3,13.0 124.3,13.9C125.3,14.8 126.5,15.5 127.8,16.3C129.1,17.1 130.9,17.7 132.3,18.6C133.7,19.5 135.1,20.5 136.3,21.7C137.6,22.9 138.8,24.5 139.8,25.6C140.8,26.7 141.1,27.0 142.1,28.1C143.1,29.2 144.8,30.9 146.0,32.4C147.2,33.9 148.0,35.2 149.0,36.8C150.0,38.4 148.3,41.2 151.8,42.1C155.3,43.0 167.0,50.8 170.0,42.1C173.0,33.4 180.8,-1.3 170.0,-10.0C159.2,-18.7 116.1,-11.3 105.3,-10.0C94.5,-8.7 104.5,-4.3 105.3,-2.4Z" fill="#b39b39"/>
<path d="M117.8,-2.4C118.4,-0.1 119.9,1.9 121.1,3.6C122.3,5.3 123.8,6.5 125.1,7.6C126.4,8.7 127.8,9.4 129.1,10.3C130.4,11.2 131.7,12.0 132.8,12.9C134.0,13.8 134.8,14.5 136.0,15.8C137.2,17.0 138.7,18.8 140.1,20.4C141.5,22.0 143.1,23.9 144.3,25.6C145.6,27.3 146.6,28.9 147.6,30.6C148.7,32.4 146.9,35.2 150.6,36.1C154.3,37.0 166.8,43.8 170.0,36.1C173.2,28.4 178.7,-2.3 170.0,-10.0C161.3,-17.7 126.5,-11.3 117.8,-10.0C109.1,-8.7 117.3,-4.7 117.8,-2.4Z" fill="#dfa56e"/>
<ellipse cx="120.3" cy="21.9" rx="0.9" ry="0.9" fill="#f0f0f0"/>
<ellipse cx="125.3" cy="33.1" rx="1.7" ry="1.6" fill="#f0f0f0"/>
<ellipse cx="128.7" cy="34.0" rx="1.4" ry="1.3" fill="#f0f0f0"/>
<ellipse cx="130.9" cy="38.8" rx="1.2" ry="1.8" fill="#f0f0f0"/>
<ellipse cx="133.0" cy="44.8" rx="1.4" ry="0.8" fill="#f0f0f0"/>
<ellipse cx="131.5" cy="52.4" rx="1.4" ry="1.3" fill="#f0f0f0"/>
<ellipse cx="137.8" cy="44.4" rx="1.0" ry="1.0" fill="#f0f0f0"/>
<g stroke="#ffffff" stroke-width="0.6" fill="none" opacity="0.45"><path stroke-dasharray="1.5 1.0" d="M84.0,5.6C78.2,-4.3 88.6,6.2 91.1,6.7C93.6,7.2 96.3,7.9 99.0,8.8C101.7,9.7 104.8,10.9 107.1,11.9C109.4,12.9 111.2,13.8 113.0,15.0C114.8,16.2 116.4,17.2 118.1,18.9C119.8,20.6 121.3,22.6 123.1,25.1C124.8,27.6 127.1,31.5 128.6,34.1C130.1,36.7 131.4,38.8 132.1,40.6C132.8,42.4 132.7,43.0 132.6,45.1C132.5,47.2 131.9,50.6 131.3,53.1C130.7,55.6 129.9,57.9 129.0,60.0C128.1,62.1 133.5,75.1 126.0,66.0" fill="none"/><line stroke-dasharray="1.4 1.0" x1="86.8" y1="61.0" x2="160.6" y2="-33.5"/></g>
</g>
<polygon points="129.2,65.4 137.3,63.4 144.4,63.8 153.4,65.4 153.4,75.4 137.3,72.4 133.3,74.4 130.2,72.4" fill="#547c4d"/>
<g clip-path="url(#wk)">
<polygon points="133.3,62.3 153.4,62.3 153.4,66.8 135.3,66.4" fill="#2e6b5e"/>
<path d="M128.2,70.4C129.7,69.1 134.1,69.4 137.3,69.4C140.5,69.4 144.4,70.1 147.4,70.4C150.4,70.7 154.1,70.2 155.4,71.4C156.8,72.6 160.0,76.5 155.4,77.5C150.9,78.5 132.8,78.6 128.2,77.5C123.7,76.3 126.7,71.8 128.2,70.4Z" fill="#848a3a"/>
</g>
<path d="M76.8,41.1C77.5,40.1 79.4,39.7 80.9,39.9C82.4,40.0 85.0,40.9 85.9,41.9C86.9,42.9 88.0,45.2 86.5,45.9C85.0,46.6 78.5,46.7 76.8,45.9C75.2,45.1 76.2,42.1 76.8,41.1Z" fill="#ffffff"/>
<polygon points="148.4,79.2 151.4,79.2 151.4,81.8 149.0,81.8" fill="#b39b39"/>
<ellipse cx="45.1" cy="32.2" rx="0.6" ry="0.6" fill="#d6d6d6"/>
<ellipse cx="46.1" cy="36.3" rx="0.6" ry="0.6" fill="#d6d6d6"/>
<ellipse cx="44.7" cy="40.3" rx="0.6" ry="0.6" fill="#d6d6d6"/>
<g stroke="#ffffff" stroke-width="0.5" fill="none" opacity="0.16" stroke-dasharray="1.3 0.9">
<circle cx="74.5" cy="76.8" r="17.0"/>
<circle cx="74.5" cy="76.8" r="34.3"/>
<circle cx="74.5" cy="76.8" r="52.1"/>
<circle cx="74.5" cy="76.8" r="70.8"/>
<line x1="74.2" y1="68.8" x2="69.6" y2="-63.1"/>
<line x1="79.4" y1="70.5" x2="160.6" y2="-33.5"/>
<line x1="82.3" y1="75.1" x2="211.4" y2="47.7"/>
<line x1="81.5" y1="80.6" x2="198.1" y2="142.5"/>
<line x1="77.4" y1="84.2" x2="126.9" y2="206.6"/>
<line x1="72.0" y1="84.4" x2="31.2" y2="209.9"/>
<line x1="67.7" y1="81.0" x2="-44.3" y2="151.0"/>
<line x1="66.5" y1="75.7" x2="-64.2" y2="57.3"/>
<line x1="69.1" y1="70.9" x2="-19.2" y2="-27.2"/>
</g>
</g></g>
<text x="5.4" y="11.1" font-size="8.4" font-weight="bold" fill="#111">(c)</text>
<text transform="translate(149.4 105.5) scale(1.053 1)" font-size="7.5" font-weight="bold" text-anchor="end" fill="#111">WOA23</text>
<text transform="translate(149.5 113.9) scale(1.046 1)" font-size="6.5" font-weight="bold" text-anchor="end" fill="#111">(February 1965<tspan font-size="4.9" dx="0.3" dy="-0.5">−</tspan><tspan dx="0.3" dy="0.5">2022</tspan>, 200 m)</text>
</g>
<g transform="translate(4.9 128.2)"><g clip-path="url(#pr)"><g clip-path="url(#pc)">
<rect x="-5" y="-5" width="170" height="130" fill="#b4b4b4"/>
<polygon points="-2.0,49.4 0.1,49.3 7.2,48.2 10.2,46.2 15.3,46.6 18.3,48.2 25.3,46.2 28.3,48.2 32.4,46.2 38.4,42.2 40.4,43.2 36.4,47.2 38.4,50.3 44.5,52.3 45.5,54.3 50.5,52.3 55.6,51.9 57.6,52.9 59.9,52.1 59.2,55.9 56.2,58.2 53.1,59.7 48.6,58.9 45.6,57.4 43.5,57.3 38.4,56.3 31.4,57.3 26.3,59.3 25.3,61.3 28.3,63.4 31.4,65.0 33.4,68.4 34.4,72.4 34.8,71.1 38.4,73.1 42.5,77.2 48.5,76.2 55.6,77.2 61.6,72.1 64.6,68.1 63.7,66.4 67.4,63.9 68.2,58.2 70.4,53.6 68.9,51.4 67.4,49.1 70.4,48.4 73.4,49.9 74.2,46.9 76.5,46.1 77.6,42.6 81.7,40.8 86.6,41.3 91.1,44.1 94.9,49.1 96.9,54.6 97.7,59.1 96.9,64.6 93.7,69.4 94.3,74.4 95.1,78.6 94.3,78.2 90.1,79.3 86.6,81.7 82.7,82.9 79.3,84.3 79.9,86.9 80.7,89.4 77.8,91.1 73.8,93.1 71.1,96.3 70.1,98.3 64.6,96.3 61.6,100.3 59.6,98.3 55.6,94.3 51.5,95.3 45.5,96.3 40.4,98.3 35.4,99.3 32.4,96.3 28.3,91.9 21.3,92.3 14.2,91.3 10.2,92.3 8.2,93.3 7.2,98.3 5.2,105.4 4.2,108.4 2.2,103.4 0.1,98.3 -2.0,98.4" fill="#dfa56e"/>
<g clip-path="url(#m_d)">
<path d="M-7.7,69.0C-6.4,75.9 -2.5,69.4 0.1,69.0C2.6,68.7 5.4,67.6 7.5,66.8C9.7,66.0 11.5,65.1 13.1,64.3C14.7,63.6 16.0,62.6 17.2,62.4C18.5,62.2 19.6,62.2 20.5,62.9C21.4,63.7 22.6,65.6 22.7,66.8C22.9,68.1 20.9,69.2 21.4,70.4C21.8,71.6 23.9,73.3 25.5,74.0C27.1,74.7 29.6,74.9 31.0,74.6C32.4,74.2 33.2,72.9 33.8,71.8C34.3,70.6 33.4,68.6 34.3,67.6C35.3,66.7 36.6,67.0 39.3,66.3C42.0,65.6 46.9,64.9 50.4,63.5C53.8,62.1 58.2,60.3 60.0,58.0C61.9,55.7 60.2,48.5 61.4,49.7C62.7,50.8 65.9,61.4 67.5,64.9C69.1,68.3 69.4,69.0 71.1,70.4C72.9,71.8 75.5,72.9 78.0,73.2C80.5,73.4 84.0,72.5 86.3,71.8C88.6,71.1 90.2,70.0 91.8,69.0C93.4,68.1 94.6,69.5 96.0,66.3C97.4,63.0 99.4,56.1 100.1,49.7C100.8,43.2 118.1,31.3 100.1,27.6C82.2,23.9 10.3,20.7 -7.7,27.6C-25.6,34.5 -9.0,62.1 -7.7,69.0Z" fill="#b39b39"/>
<path d="M-6.9,69.7C-5.7,63.3 -2.2,71.2 0.1,71.7C2.5,72.3 4.7,72.2 7.2,72.9C9.7,73.7 13.2,74.8 15.3,76.2C17.3,77.5 19.1,79.7 19.3,81.2C19.4,82.7 17.3,84.1 16.3,85.2C15.3,86.4 14.2,86.9 13.2,88.3C12.2,89.6 11.1,92.3 10.2,93.3C9.4,94.3 8.9,93.1 8.2,94.3C7.5,95.5 6.9,97.7 6.2,100.3C5.5,103.0 6.4,108.7 4.2,110.4C2.0,112.1 -5.1,117.2 -6.9,110.4C-8.8,103.6 -8.1,76.2 -6.9,69.7Z" fill="#f5b09f"/>
</g>
<polygon points="30.4,75.2 35.4,74.1 37.4,78.2 36.4,83.2 32.4,84.2 30.4,80.2" fill="#b4b4b4"/>
<polygon points="56.6,86.2 61.6,83.2 65.6,82.2 68.7,85.2 72.7,83.2 75.7,84.2 76.7,88.3 75.1,90.3 68.7,92.3 61.6,91.9 57.6,90.3" fill="#b4b4b4"/>
<polygon points="-1.9,24.3 3.7,24.3 4.4,28.1 3.5,33.1 2.7,37.7 7.1,37.5 13.9,35.0 14.7,36.1 7.4,39.0 2.5,39.9 2.0,42.5 -1.9,42.5" fill="#b39b39"/>
<g clip-path="url(#r_d)">
<rect x="60" y="-5" width="100" height="90" fill="#848a3a"/>
<path d="M85.7,-2.9C86.1,-0.6 87.4,2.0 88.2,4.1C89.0,6.2 89.8,8.0 90.7,9.4C91.6,10.8 92.5,12.4 93.7,12.7C94.9,13.1 96.4,11.9 97.9,11.5C99.4,11.1 101.1,10.4 102.9,10.3C104.7,10.2 106.8,10.5 108.7,10.9C110.6,11.3 112.7,12.0 114.5,12.8C116.3,13.6 117.8,14.9 119.4,15.9C120.9,16.9 122.3,17.9 123.8,19.0C125.3,20.1 126.7,21.3 128.3,22.5C129.9,23.7 132.1,25.1 133.5,26.1C134.9,27.1 135.2,27.5 136.5,28.5C137.8,29.5 139.6,30.9 141.0,32.3C142.4,33.8 143.6,35.6 144.7,37.2C145.8,38.8 146.6,40.5 147.3,41.9C148.0,43.3 148.1,44.1 148.9,45.6C149.7,47.1 148.6,49.8 152.1,50.6C155.6,51.4 167.0,60.7 170.0,50.6C173.0,40.5 184.1,0.1 170.0,-10.0C155.9,-20.1 99.7,-11.2 85.7,-10.0C71.6,-8.8 85.3,-5.2 85.7,-2.9Z" fill="#b39b39"/>
<path d="M89.9,-2.9C90.2,-1.0 91.0,0.4 91.7,1.6C92.4,2.8 93.0,3.5 93.9,4.0C94.8,4.5 95.7,4.6 97.1,4.7C98.5,4.8 100.2,4.6 102.1,4.4C104.0,4.2 106.1,3.6 108.3,3.7C110.5,3.7 112.9,4.1 115.1,4.7C117.3,5.3 119.8,6.6 121.7,7.5C123.6,8.4 125.1,9.3 126.3,10.1C127.5,10.8 127.2,11.0 128.7,12.0C130.2,13.0 133.2,14.8 135.3,16.3C137.4,17.8 139.6,19.6 141.3,21.1C143.0,22.6 144.3,23.9 145.6,25.3C146.8,26.7 148.0,28.0 148.8,29.7C149.6,31.5 149.8,33.6 150.4,35.8C151.0,38.0 148.8,41.9 152.1,43.1C155.4,44.3 167.0,52.0 170.0,43.1C173.0,34.2 183.3,-1.2 170.0,-10.0C156.7,-18.9 103.2,-11.2 89.9,-10.0C76.5,-8.8 89.6,-4.8 89.9,-2.9Z" fill="#dfa56e"/>
<path d="M94.1,18.1C94.6,17.4 95.0,16.6 96.0,16.1C96.9,15.5 98.4,15.1 99.8,14.8C101.2,14.5 102.6,14.3 104.2,14.3C105.8,14.3 107.5,14.3 109.3,14.8C111.1,15.3 113.4,16.2 115.1,17.1C116.8,18.0 118.3,19.1 119.7,20.1C121.0,21.2 121.5,21.9 123.1,23.3C124.7,24.7 127.5,27.1 129.3,28.5C131.1,29.9 132.5,30.4 134.1,31.7C135.7,33.0 137.6,34.7 139.1,36.3C140.6,37.9 141.9,39.4 143.1,41.1C144.3,42.8 145.5,44.8 146.5,46.3C147.5,47.8 147.8,48.6 148.9,50.1C150.0,51.6 149.6,48.5 153.1,55.1C156.6,61.8 177.2,84.2 170.0,90.0C162.8,95.8 118.9,100.1 110.0,90.0C101.1,79.9 116.1,39.7 116.9,29.1C117.6,18.5 115.6,27.0 114.6,26.2C113.5,25.4 112.1,24.7 110.5,24.2C109.0,23.7 106.9,23.4 105.5,23.3C104.1,23.1 103.7,23.4 102.3,23.3C100.9,23.2 98.8,23.0 97.3,22.5C95.7,22.0 93.3,21.0 92.8,20.3C92.3,19.5 93.6,18.8 94.1,18.1Z" fill="#547c4d"/>
<ellipse cx="139.9" cy="50.4" rx="3.4" ry="1.6" fill="#2e6b5e"/>
<g stroke="#ffffff" stroke-width="0.6" fill="none" opacity="0.45"><path stroke-dasharray="1.5 1.0" d="M84.0,5.6C78.2,-4.3 88.6,6.2 91.1,6.7C93.6,7.2 96.3,7.9 99.0,8.8C101.7,9.7 104.8,10.9 107.1,11.9C109.4,12.9 111.2,13.8 113.0,15.0C114.8,16.2 116.4,17.2 118.1,18.9C119.8,20.6 121.3,22.6 123.1,25.1C124.8,27.6 127.1,31.5 128.6,34.1C130.1,36.7 131.4,38.8 132.1,40.6C132.8,42.4 132.7,43.0 132.6,45.1C132.5,47.2 131.9,50.6 131.3,53.1C130.7,55.6 129.9,57.9 129.0,60.0C128.1,62.1 133.5,75.1 126.0,66.0" fill="none"/><line stroke-dasharray="1.4 1.0" x1="86.8" y1="61.0" x2="160.6" y2="-33.5"/></g>
</g>
<polygon points="129.6,64.7 142.8,63.1 143.5,65.4 152.1,66.1 152.1,75.1 133.8,75.1 132.4,73.7 131.0,70.2 129.6,66.8" fill="#547c4d"/>
<polygon points="147.7,79.2 150.7,79.2 150.7,82.2 148.7,82.2" fill="#f5b09f"/>
<g stroke="#ffffff" stroke-width="0.5" fill="none" opacity="0.16" stroke-dasharray="1.3 0.9">
<circle cx="74.5" cy="76.8" r="17.0"/>
<circle cx="74.5" cy="76.8" r="34.3"/>
<circle cx="74.5" cy="76.8" r="52.1"/>
<circle cx="74.5" cy="76.8" r="70.8"/>
<line x1="74.2" y1="68.8" x2="69.6" y2="-63.1"/>
<line x1="79.4" y1="70.5" x2="160.6" y2="-33.5"/>
<line x1="82.3" y1="75.1" x2="211.4" y2="47.7"/>
<line x1="81.5" y1="80.6" x2="198.1" y2="142.5"/>
<line x1="77.4" y1="84.2" x2="126.9" y2="206.6"/>
<line x1="72.0" y1="84.4" x2="31.2" y2="209.9"/>
<line x1="67.7" y1="81.0" x2="-44.3" y2="151.0"/>
<line x1="66.5" y1="75.7" x2="-64.2" y2="57.3"/>
<line x1="69.1" y1="70.9" x2="-19.2" y2="-27.2"/>
</g>
</g></g>
<text x="5.4" y="11.1" font-size="8.4" font-weight="bold" fill="#111">(d)</text>
<text transform="translate(149.4 105.5) scale(1.053 1)" font-size="7.5" font-weight="bold" text-anchor="end" fill="#111">NorESM-OCv1.2</text>
<text transform="translate(149.5 113.9) scale(1.046 1)" font-size="6.5" font-weight="bold" text-anchor="end" fill="#111">(August 1985–2014, 200 m)</text>
</g>
<g transform="translate(158.9 128.2)"><g clip-path="url(#pr)"><g clip-path="url(#pc)">
<rect x="-5" y="-5" width="170" height="130" fill="#b4b4b4"/>
<polygon points="-2.0,49.4 0.1,49.3 7.2,48.2 10.2,46.2 15.3,46.6 18.3,48.2 25.3,46.2 28.3,48.2 32.4,46.2 38.4,42.2 40.4,43.2 36.4,47.2 38.4,50.3 44.5,52.3 45.5,54.3 50.5,52.3 55.6,51.9 57.6,52.9 59.9,52.1 59.2,55.9 56.2,58.2 53.1,59.7 48.6,58.9 45.6,57.4 43.5,57.3 38.4,56.3 31.4,57.3 26.3,59.3 25.3,61.3 28.3,63.4 31.4,65.0 33.4,68.4 34.4,72.4 34.8,71.1 38.4,73.1 42.5,77.2 48.5,76.2 55.6,77.2 61.6,72.1 64.6,68.1 63.7,66.4 67.4,63.9 68.2,58.2 70.4,53.6 68.9,51.4 67.4,49.1 70.4,48.4 73.4,49.9 74.2,46.9 76.5,46.1 77.6,42.6 81.7,40.8 86.6,41.3 91.1,44.1 94.9,49.1 96.9,54.6 97.7,59.1 96.9,64.6 93.7,69.4 94.3,74.4 95.1,78.6 94.3,78.2 90.1,79.3 86.6,81.7 82.7,82.9 79.3,84.3 79.9,86.9 80.7,89.4 77.8,91.1 73.8,93.1 71.1,96.3 70.1,98.3 64.6,96.3 61.6,100.3 59.6,98.3 55.6,94.3 51.5,95.3 45.5,96.3 40.4,98.3 35.4,99.3 32.4,96.3 28.3,91.9 21.3,92.3 14.2,91.3 10.2,92.3 8.2,93.3 7.2,98.3 5.2,105.4 4.2,108.4 2.2,103.4 0.1,98.3 -2.0,98.4" fill="#dfa56e"/>
<g clip-path="url(#m_e)">
<path d="M6.2,50.3C7.0,49.3 9.7,49.3 11.2,49.3C12.7,49.3 14.1,50.4 15.2,50.3C16.4,50.1 16.8,48.8 18.3,48.2C19.8,47.7 22.1,46.9 24.3,46.8C26.5,46.7 30.4,46.9 31.4,47.6C32.4,48.4 31.2,50.0 30.4,51.3C29.5,52.5 27.3,54.0 26.3,55.3C25.3,56.6 24.3,58.0 24.3,59.3C24.3,60.7 25.2,62.3 26.3,63.4C27.5,64.4 30.2,64.4 31.4,65.4C32.5,66.4 33.0,68.2 33.4,69.4C33.7,70.6 34.6,71.8 33.4,72.4C32.2,73.0 28.3,73.0 26.3,73.0C24.3,73.0 22.6,72.2 21.3,72.4C19.9,72.7 19.6,73.8 18.3,74.4C16.9,75.1 14.6,76.6 13.2,76.5C11.9,76.3 11.2,74.6 10.2,73.4C9.2,72.3 7.5,71.1 7.2,69.4C6.8,67.7 7.9,65.0 8.2,63.4C8.5,61.7 9.5,60.7 9.2,59.3C8.9,58.0 6.7,56.8 6.2,55.3C5.7,53.8 5.3,51.3 6.2,50.3Z" fill="#b39b39"/>
<polygon points="10.2,59.3 12.2,59.3 12.2,68.4 10.2,68.4" fill="#dfa56e"/>
<path d="M51.5,59.3C51.3,58.7 52.5,55.8 53.1,55.3C53.8,54.8 55.3,55.6 55.5,56.3C55.8,57.0 55.2,58.8 54.5,59.3C53.9,59.8 51.8,60.0 51.5,59.3Z" fill="#b39b39"/>
<path d="M82.2,46.2C82.4,45.2 84.0,44.1 84.8,44.2C85.6,44.3 86.9,45.9 87.2,46.8C87.6,47.8 87.4,49.3 86.8,49.9C86.2,50.4 84.4,50.9 83.6,50.3C82.8,49.7 82.0,47.2 82.2,46.2Z" fill="#b39b39"/>
<polygon points="-1.9,53.3 3.2,53.3 3.2,57.3 -1.9,57.3" fill="#b39b39"/>
<path d="M-3.9,78.2C-3.2,73.0 -1.0,78.8 0.1,79.2C1.3,79.5 2.8,78.7 3.2,80.2C3.5,81.7 1.6,86.6 2.1,88.3C2.6,89.9 5.0,89.8 6.2,90.3C7.4,90.8 9.0,89.9 9.2,91.3C9.4,92.6 7.9,95.1 7.2,98.3C6.5,101.5 7.0,108.4 5.2,110.4C3.3,112.4 -2.4,115.8 -3.9,110.4C-5.4,105.0 -4.6,83.4 -3.9,78.2Z" fill="#f5b09f"/>
<polygon points="71.7,87.2 75.7,87.2 75.7,91.3 71.7,91.3" fill="#f5b09f"/>
</g>
<polygon points="30.4,75.2 35.4,74.1 37.4,78.2 36.4,83.2 32.4,84.2 30.4,80.2" fill="#b4b4b4"/>
<polygon points="56.6,86.2 61.6,83.2 65.6,82.2 68.7,85.2 72.7,83.2 75.7,84.2 76.7,88.3 75.1,90.3 68.7,92.3 61.6,91.9 57.6,90.3" fill="#b4b4b4"/>
<polygon points="-1.9,24.3 2.7,24.3 3.0,28.1 2.5,33.1 2.1,37.9 7.1,37.5 13.9,35.0 14.7,36.1 7.4,39.0 2.1,39.9 1.7,42.5 -1.9,42.5" fill="#b39b39"/>
<g clip-path="url(#r_e)">
<rect x="60" y="-5" width="100" height="90" fill="#2e6b5e"/>
<path d="M88.3,14.6C88.6,13.4 89.1,12.1 90.8,10.8C92.5,9.4 96.1,6.9 98.4,6.3C100.7,5.8 102.6,6.9 104.7,7.6C106.9,8.3 109.8,9.8 111.1,10.8C112.4,11.7 111.4,12.6 112.5,13.3C113.6,14.0 116.1,14.2 117.6,14.8C119.0,15.4 120.1,16.2 121.4,17.1C122.6,18.0 123.8,19.3 125.2,20.3C126.5,21.2 128.4,21.9 129.6,22.8C130.7,23.6 131.6,24.4 132.1,25.3C132.6,26.3 132.5,27.7 132.7,28.5C133.0,29.3 132.7,29.3 133.4,30.1C134.0,30.9 135.2,32.1 136.5,33.2C137.9,34.4 140.1,35.9 141.6,37.0C143.1,38.2 143.3,39.1 145.4,40.2C147.5,41.2 152.8,39.9 154.3,43.4C155.7,46.8 154.5,57.8 154.3,61.1C154.1,64.4 155.3,63.3 153.1,63.1C150.9,62.9 144.8,60.9 141.1,60.1C137.4,59.3 133.5,58.8 131.1,58.1C128.7,57.4 127.1,57.2 126.4,55.7C125.7,54.2 127.2,51.2 127.0,49.1C126.8,47.0 125.0,44.7 125.2,42.8C125.4,40.9 127.4,39.3 128.3,37.6C129.2,35.9 130.6,34.3 130.8,32.6C131.0,30.9 130.3,29.1 129.6,27.6C128.9,26.1 128.6,24.4 126.4,23.8C124.2,23.2 118.7,24.0 116.1,24.0C113.6,24.1 112.8,24.2 111.1,24.0C109.4,23.9 108.1,23.7 106.0,23.4C103.9,23.1 100.5,22.6 98.4,22.2C96.3,21.7 94.9,21.6 93.4,20.9C91.8,20.1 89.8,18.8 88.9,17.7C88.1,16.7 88.0,15.7 88.3,14.6Z" fill="#1a5963"/>
<path d="M95.3,15.3C96.1,13.8 98.6,12.1 101.3,11.6C104.0,11.1 108.5,11.6 111.4,12.2C114.3,12.8 116.6,14.1 118.5,15.3C120.3,16.4 122.3,18.0 122.5,19.3C122.7,20.6 121.3,22.7 119.5,23.3C117.6,24.0 114.1,23.4 111.4,23.3C108.7,23.3 105.9,23.4 103.3,22.9C100.8,22.4 97.6,21.6 96.3,20.3C94.9,19.0 94.4,16.7 95.3,15.3Z" fill="#123f5f"/>
<ellipse cx="100.8" cy="16.4" rx="2.3" ry="2.1" fill="#041659"/>
<path d="M132.7,55.7C133.1,53.6 131.2,51.0 131.5,49.1C131.8,47.2 133.3,45.5 134.6,44.1C135.9,42.7 137.5,41.7 139.1,40.8C140.7,39.9 142.3,39.1 144.1,38.9C145.9,38.7 148.0,39.4 149.8,39.5C151.6,39.6 154.2,34.9 155.1,39.7C156.0,44.5 159.1,63.4 155.1,68.1C151.1,72.8 135.4,69.2 131.1,68.1C126.8,67.0 128.8,63.8 129.1,61.7C129.4,59.6 132.3,57.8 132.7,55.7Z" fill="#123f5f"/>
<ellipse cx="141.7" cy="44.3" rx="2.6" ry="1.8" fill="#041659"/>
<ellipse cx="134.0" cy="35.7" rx="2.0" ry="1.8" fill="#123f5f"/>
<path d="M84.5,-1.3C84.9,1.0 85.8,2.5 87.0,3.8C88.3,5.1 90.2,6.0 92.1,6.3C94.0,6.7 96.3,5.7 98.4,5.9C100.5,6.2 103.0,7.0 104.7,7.6C106.5,8.1 107.2,8.5 108.7,9.2C110.2,9.9 111.9,11.1 113.8,11.8C115.7,12.4 118.5,12.6 120.1,13.3C121.7,14.0 122.2,14.9 123.3,15.8C124.3,16.8 125.2,18.1 126.4,19.0C127.7,19.9 129.7,20.4 130.8,21.1C132.0,21.9 132.7,22.4 133.4,23.4C134.1,24.4 134.7,26.1 135.0,27.2C135.4,28.3 135.1,28.9 135.5,30.1C136.0,31.3 136.6,32.9 137.8,34.5C139.0,36.1 140.6,37.9 142.9,39.6C145.2,41.2 147.2,43.8 151.7,44.6C156.3,45.5 167.0,53.7 170.0,44.6C173.0,35.5 184.3,-0.9 170.0,-10.0C155.7,-19.1 98.7,-11.5 84.5,-10.0C70.2,-8.5 84.1,-3.6 84.5,-1.3Z" fill="#547c4d"/>
<path d="M87.0,-1.3C87.9,0.8 90.2,1.8 92.1,2.5C94.0,3.2 96.3,2.6 98.4,2.9C100.5,3.2 103.2,4.0 104.7,4.4C106.2,4.9 106.2,5.0 107.4,5.7C108.6,6.4 110.2,7.9 111.9,8.9C113.5,9.8 115.9,10.8 117.6,11.4C119.2,12.0 120.8,11.7 122.0,12.3C123.1,12.8 123.6,13.6 124.5,14.6C125.5,15.5 126.4,16.8 127.7,17.7C128.9,18.6 131.0,19.1 132.1,19.9C133.3,20.6 133.9,21.1 134.6,22.2C135.4,23.2 136.3,24.6 136.8,25.9C137.3,27.3 137.2,28.9 137.8,30.1C138.4,31.3 139.2,31.9 140.3,33.2C141.5,34.6 142.9,36.7 144.8,38.3C146.7,39.9 147.5,42.0 151.7,42.7C155.9,43.5 167.0,51.5 170.0,42.7C173.0,33.9 183.8,-1.2 170.0,-10.0C156.2,-18.8 100.9,-11.5 87.0,-10.0C73.2,-8.5 86.2,-3.4 87.0,-1.3Z" fill="#848a3a"/>
<path d="M103.6,-1.3C104.3,0.7 106.0,0.9 107.4,1.9C108.9,2.8 110.8,3.6 112.5,4.4C114.2,5.3 116.0,6.3 117.6,7.0C119.1,7.6 120.6,7.5 122.0,8.2C123.4,9.0 124.6,10.2 125.8,11.4C126.9,12.6 127.6,14.1 128.9,15.2C130.3,16.2 132.5,17.0 134.0,17.7C135.5,18.5 136.9,18.6 137.8,19.6C138.8,20.7 139.2,22.3 139.7,24.0C140.2,25.8 140.3,28.6 141.0,30.1C141.6,31.7 142.5,32.0 143.5,33.2C144.6,34.5 145.9,36.4 147.3,37.7C148.7,38.9 147.9,40.3 151.7,40.8C155.5,41.3 167.0,49.3 170.0,40.8C173.0,32.4 181.1,-1.5 170.0,-10.0C158.9,-18.5 114.7,-11.5 103.6,-10.0C92.6,-8.5 103.0,-3.2 103.6,-1.3Z" fill="#b39b39"/>
<path d="M123.3,-1.3C123.9,1.1 126.5,2.7 127.0,4.4C127.6,6.1 126.2,7.5 126.4,8.9C126.6,10.2 127.3,11.6 128.3,12.7C129.4,13.7 131.2,14.7 132.7,15.2C134.3,15.7 136.4,15.5 137.8,15.8C139.2,16.2 140.5,16.8 141.4,17.3C142.2,17.9 143.0,18.0 143.1,19.0C143.3,20.0 142.3,21.8 142.4,23.4C142.4,25.0 143.1,27.4 143.5,28.5C143.9,29.6 144.2,29.4 144.8,30.1C145.3,30.8 145.5,31.7 146.7,32.6C147.8,33.5 147.8,35.2 151.7,35.8C155.6,36.3 167.0,43.4 170.0,35.8C173.0,28.1 177.8,-2.4 170.0,-10.0C162.2,-17.6 131.0,-11.5 123.3,-10.0C115.5,-8.5 122.6,-3.7 123.3,-1.3Z" fill="#dfa56e"/>
<polygon points="93.4,23.8 98.4,23.8 98.4,25.4 93.4,25.4" fill="#b39b39"/>
<g stroke="#ffffff" stroke-width="0.6" fill="none" opacity="0.45"><path stroke-dasharray="1.5 1.0" d="M84.0,5.6C78.2,-4.3 88.6,6.2 91.1,6.7C93.6,7.2 96.3,7.9 99.0,8.8C101.7,9.7 104.8,10.9 107.1,11.9C109.4,12.9 111.2,13.8 113.0,15.0C114.8,16.2 116.4,17.2 118.1,18.9C119.8,20.6 121.3,22.6 123.1,25.1C124.8,27.6 127.1,31.5 128.6,34.1C130.1,36.7 131.4,38.8 132.1,40.6C132.8,42.4 132.7,43.0 132.6,45.1C132.5,47.2 131.9,50.6 131.3,53.1C130.7,55.6 129.9,57.9 129.0,60.0C128.1,62.1 133.5,75.1 126.0,66.0" fill="none"/><line stroke-dasharray="1.4 1.0" x1="86.8" y1="61.0" x2="160.6" y2="-33.5"/></g>
</g>
<polygon points="129.6,64.7 142.8,63.1 143.5,65.4 152.1,66.1 152.1,75.1 133.8,75.1 132.4,73.7 131.0,70.2 129.6,66.8" fill="#2e6b5e"/>
<g clip-path="url(#k_e)">
<path d="M139.6,61.3C141.6,60.0 151.4,58.7 153.7,61.3C156.1,64.0 155.4,74.9 153.7,77.5C152.0,80.0 145.7,77.8 143.6,76.5C141.6,75.1 142.3,71.9 141.6,69.4C141.0,66.9 137.6,62.7 139.6,61.3Z" fill="#848a3a"/>
</g>
<polygon points="147.7,79.2 150.7,79.2 150.7,82.2 148.7,82.2" fill="#dfa56e"/>
<g stroke="#ffffff" stroke-width="0.5" fill="none" opacity="0.16" stroke-dasharray="1.3 0.9">
<circle cx="74.5" cy="76.8" r="17.0"/>
<circle cx="74.5" cy="76.8" r="34.3"/>
<circle cx="74.5" cy="76.8" r="52.1"/>
<circle cx="74.5" cy="76.8" r="70.8"/>
<line x1="74.2" y1="68.8" x2="69.6" y2="-63.1"/>
<line x1="79.4" y1="70.5" x2="160.6" y2="-33.5"/>
<line x1="82.3" y1="75.1" x2="211.4" y2="47.7"/>
<line x1="81.5" y1="80.6" x2="198.1" y2="142.5"/>
<line x1="77.4" y1="84.2" x2="126.9" y2="206.6"/>
<line x1="72.0" y1="84.4" x2="31.2" y2="209.9"/>
<line x1="67.7" y1="81.0" x2="-44.3" y2="151.0"/>
<line x1="66.5" y1="75.7" x2="-64.2" y2="57.3"/>
<line x1="69.1" y1="70.9" x2="-19.2" y2="-27.2"/>
</g>
</g></g>
<text x="5.4" y="11.1" font-size="8.4" font-weight="bold" fill="#111">(e)</text>
<text transform="translate(149.4 105.5) scale(1.053 1)" font-size="7.5" font-weight="bold" text-anchor="end" fill="#111">NorESM-bcoi-v1</text>
<text transform="translate(149.5 113.9) scale(1.046 1)" font-size="6.5" font-weight="bold" text-anchor="end" fill="#111">(August 1985–2014, 200 m)</text>
</g>
<g transform="translate(312.2 128.2)"><g clip-path="url(#pr)"><g clip-path="url(#pc)">
<rect x="-5" y="-5" width="170" height="130" fill="#b4b4b4"/>
<polygon points="-2.0,54.8 0.2,54.7 4.9,53.7 6.9,51.5 12.9,50.9 18.0,49.5 22.0,48.0 28.0,47.6 32.1,46.4 35.1,48.2 39.1,52.3 43.2,54.3 48.2,53.3 52.2,52.3 56.3,53.3 60.3,57.3 65.3,59.3 68.3,55.3 71.4,50.3 75.8,48.2 76.8,42.2 80.9,41.2 85.9,43.2 91.0,49.3 95.0,57.3 96.0,62.3 94.0,68.4 93.0,73.4 94.0,80.1 93.0,74.1 92.0,78.2 88.9,81.2 85.9,84.2 82.9,87.2 79.9,90.3 76.8,95.3 73.8,98.3 70.8,99.3 66.3,96.3 63.3,99.3 60.3,96.3 56.3,93.3 52.2,94.3 46.2,96.3 39.1,97.3 35.1,98.3 33.1,95.3 29.0,90.7 24.0,91.3 18.0,91.9 14.7,91.1 11.9,93.1 9.1,95.9 7.5,100.7 5.9,107.4 3.5,102.8 0.2,98.3 -2.0,98.4" fill="#dfa56e"/>
<g clip-path="url(#wm)">
<path d="M5.9,67.4C6.5,65.2 8.2,61.7 9.9,59.3C11.6,57.0 13.6,54.7 16.0,53.3C18.3,51.9 21.8,51.4 24.0,50.9C26.2,50.4 28.5,49.5 29.0,50.3C29.6,51.0 28.0,53.8 27.0,55.3C26.0,56.8 23.5,58.2 23.0,59.3C22.5,60.5 23.0,61.2 24.0,62.3C25.0,63.5 27.7,65.0 29.0,66.4C30.4,67.7 31.6,69.1 32.1,70.4C32.6,71.8 33.1,73.3 32.1,74.4C31.1,75.6 28.7,76.9 26.0,77.5C23.3,78.0 18.8,78.0 16.0,77.9C13.1,77.7 10.6,77.4 8.9,76.5C7.2,75.5 6.4,73.9 5.9,72.4C5.4,70.9 5.2,69.6 5.9,67.4Z" fill="#b39b39"/>
<path d="M41.1,54.9C41.4,54.3 42.9,53.0 43.8,52.9C44.6,52.8 45.9,53.7 46.2,54.3C46.4,54.9 45.8,56.1 45.2,56.5C44.5,56.9 42.8,57.0 42.1,56.7C41.5,56.4 40.9,55.5 41.1,54.9Z" fill="#f5b09f"/>
<path d="M50.6,59.3C50.3,58.5 51.8,55.0 52.6,54.3C53.4,53.6 55.2,54.5 55.4,55.3C55.7,56.1 55.0,58.7 54.2,59.3C53.4,60.0 50.9,60.2 50.6,59.3Z" fill="#b39b39"/>
<polygon points="71.4,52.3 76.4,52.3 76.4,56.3 71.4,56.3" fill="#f5b09f"/>
<polygon points="66.3,71.4 69.4,71.4 69.4,73.4 66.3,73.4" fill="#f5b09f"/>
<path d="M-4.2,87.2C-3.5,83.5 -1.3,87.6 0.2,88.3C1.7,88.9 3.6,90.4 4.9,91.3C6.1,92.1 7.6,92.1 7.9,93.3C8.2,94.5 7.2,95.5 6.9,98.3C6.5,101.2 7.7,108.4 5.9,110.4C4.0,112.4 -2.5,114.3 -4.2,110.4C-5.9,106.6 -4.9,90.9 -4.2,87.2Z" fill="#f5b09f"/>
<path d="M56.3,92.3C56.8,91.1 59.6,90.6 62.3,90.3C65.0,89.9 70.5,89.3 72.4,90.3C74.2,91.3 74.4,94.8 73.4,96.3C72.4,97.8 68.7,99.2 66.3,99.3C64.0,99.5 61.0,98.5 59.3,97.3C57.6,96.1 55.7,93.5 56.3,92.3Z" fill="#f5b09f"/>
<ellipse cx="73.7" cy="55.0" rx="2.0" ry="2.6" fill="#f5b09f"/>
<ellipse cx="84.4" cy="59.4" rx="2.4" ry="4.4" fill="#f5b09f" transform="rotate(30 84.4 59.4)"/>
<ellipse cx="91.3" cy="65.9" rx="1.6" ry="3.6" fill="#f5b09f" transform="rotate(50 91.3 65.9)"/>
</g>
<polygon points="23.0,59.3 28.0,57.3 36.1,58.3 44.2,59.3 52.2,61.3 60.3,59.3 65.3,63.4 65.3,69.4 62.3,74.4 56.3,76.5 48.2,76.5 42.1,74.4 38.1,70.4 34.1,66.4 28.0,64.4 24.0,62.3" fill="#b4b4b4"/>
<polygon points="60.6,49.1 67.3,49.1 66.4,55.1 64.8,61.1 64.3,65.1 60.6,64.1" fill="#b4b4b4"/>
<polygon points="30.1,76.2 35.1,75.2 37.1,79.2 36.1,84.2 32.1,85.2 30.1,81.2" fill="#b4b4b4"/>
<polygon points="58.3,87.2 62.3,83.2 66.3,82.2 69.4,85.2 73.4,83.2 76.4,84.2 78.4,88.3 75.8,90.3 69.4,92.3 62.3,91.9 59.3,90.3" fill="#b4b4b4"/>
<polygon points="-1.0,24.3 2.6,24.3 2.8,27.1 -1.0,27.1" fill="#b39b39"/>
<polygon points="-1.0,27.1 2.8,27.1 2.6,34.1 -1.0,34.1" fill="#848a3a"/>
<polygon points="-1.0,34.1 2.6,34.1 3.4,38.0 2.4,41.2 -1.0,41.2" fill="#dfa56e"/>
<polygon points="5.5,37.2 6.6,37.2 6.6,38.4 5.5,38.4" fill="#dfa56e"/>
<polygon points="11.5,37.4 12.7,37.4 12.7,38.6 11.5,38.6" fill="#b39b39"/>
<g clip-path="url(#wr)">
<rect x="60" y="-5" width="100" height="90" fill="#2e6b5e"/>
<rect x="60" y="-5" width="100" height="90" fill="#547c4d"/>
<path d="M72.8,-8.2C75.1,-14.8 83.5,-4.0 86.3,-2.2C89.1,-0.5 88.2,1.0 89.8,2.1C91.4,3.1 93.6,3.7 95.8,4.2C98.0,4.8 100.6,4.7 102.8,5.2C105.1,5.6 107.4,6.2 109.3,7.1C111.2,7.9 112.8,8.8 114.3,10.1C115.8,11.3 117.1,12.9 118.3,14.6C119.5,16.2 120.4,18.4 121.3,19.9C122.2,21.5 122.7,23.1 123.8,24.1C124.9,25.0 126.3,25.3 127.8,25.8C129.3,26.2 131.1,26.4 133.0,26.9C134.9,27.5 137.8,28.3 139.1,29.1C140.4,29.9 141.3,31.2 140.9,31.8C140.5,32.3 138.4,32.9 136.5,32.6C134.6,32.3 131.6,30.5 129.6,29.9C127.6,29.4 125.9,29.1 124.3,29.1C122.7,29.1 121.9,29.5 120.0,29.9C118.1,30.4 118.2,30.6 112.8,31.8C107.4,32.9 94.5,35.9 87.8,36.8C81.1,37.6 75.3,44.2 72.8,36.8C70.3,29.2 70.6,-1.8 72.8,-8.2Z" fill="#2e6b5e"/>
<path d="M95.6,21.2C94.4,19.2 95.0,16.9 95.6,15.2C96.2,13.4 97.4,11.9 99.1,10.8C100.8,9.7 103.7,8.6 106.0,8.6C108.3,8.6 111.1,9.7 113.0,10.8C114.9,11.9 116.4,13.6 117.4,15.2C118.4,16.7 119.0,18.6 119.1,20.3C119.2,22.1 119.2,24.4 118.2,25.7C117.1,26.9 115.4,27.4 112.8,27.8C110.2,28.1 105.7,28.8 102.8,27.8C99.9,26.7 96.8,23.3 95.6,21.2Z" fill="#1a5963"/>
<path d="M99.1,22.2C98.7,21.0 98.7,18.4 99.1,16.9C99.5,15.5 100.4,14.3 101.7,13.4C103.0,12.6 105.3,11.9 106.9,12.1C108.5,12.2 110.1,13.3 111.3,14.2C112.5,15.2 113.3,16.4 113.9,17.8C114.5,19.1 115.1,21.1 114.8,22.2C114.5,23.2 113.1,23.8 112.1,23.9C111.1,24.1 109.8,23.1 108.7,23.2C107.5,23.4 106.4,24.4 105.2,24.6C104.0,24.7 102.7,24.3 101.7,23.9C100.7,23.5 99.5,23.3 99.1,22.2Z" fill="#123f5f"/>
<path d="M115.8,46.8C118.0,42.2 119.1,45.2 121.2,44.3C123.3,43.5 125.9,42.6 128.2,41.8C130.5,40.9 133.1,40.2 135.1,39.2C137.1,38.1 138.7,36.3 140.4,35.7C142.2,35.0 143.4,34.9 145.6,35.2C147.8,35.6 151.8,31.7 153.8,37.8C155.8,43.8 165.5,66.1 157.8,71.8C150.1,77.4 114.8,75.9 107.8,71.8C100.8,67.6 113.6,51.3 115.8,46.8Z" fill="#2e6b5e"/>
<path d="M115.8,51.8C117.1,47.8 118.6,48.9 120.4,47.8C122.2,46.8 124.3,46.0 126.5,45.2C128.7,44.5 131.2,44.3 133.4,43.4C135.6,42.6 137.5,40.8 139.5,40.1C141.5,39.3 143.2,38.6 145.6,38.8C148.0,38.9 151.8,35.8 153.8,41.2C155.8,46.8 164.6,66.7 157.8,71.8C151.0,76.8 119.8,75.1 112.8,71.8C105.8,68.4 114.5,55.7 115.8,51.8Z" fill="#1a5963"/>
<path d="M117.8,54.8C118.5,51.2 120.4,51.6 122.1,50.4C123.8,49.3 126.2,48.6 128.2,47.8C130.2,47.1 132.3,46.8 134.3,46.1C136.3,45.3 138.5,44.1 140.4,43.4C142.3,42.8 143.4,42.1 145.6,42.2C147.8,42.4 151.8,39.3 153.8,44.2C155.8,49.2 163.8,67.2 157.8,71.8C151.8,76.3 124.5,74.6 117.8,71.8C111.1,68.9 117.1,58.3 117.8,54.8Z" fill="#123f5f"/>
<path d="M96.8,-2.2C97.7,-0.2 100.3,1.3 102.3,2.3C104.3,3.3 106.6,3.2 108.8,3.8C111.0,4.3 113.3,4.7 115.3,5.6C117.3,6.4 119.2,7.6 120.8,8.8C122.4,9.9 123.7,11.3 124.8,12.8C125.9,14.2 126.8,15.8 127.6,17.2C128.4,18.7 128.8,20.4 129.8,21.6C130.8,22.7 132.1,23.3 133.8,24.1C135.5,24.8 138.1,25.4 139.8,26.2C141.6,27.1 143.1,28.2 144.3,29.2C145.6,30.3 146.4,31.7 147.3,32.8C148.2,33.8 148.9,34.9 149.8,35.8C150.7,36.6 149.4,37.4 152.8,37.8C156.2,38.1 167.1,45.7 170.0,37.8C172.9,29.8 182.2,-2.0 170.0,-10.0C157.8,-18.0 109.0,-11.3 96.8,-10.0C84.6,-8.7 95.9,-4.3 96.8,-2.2Z" fill="#848a3a"/>
<path d="M106.9,-2.2C108.1,-0.1 111.4,1.4 113.9,2.7C116.4,4.0 119.4,4.3 121.7,5.6C124.0,6.8 126.1,8.2 127.8,9.9C129.6,11.7 131.0,14.3 132.2,16.1C133.4,17.8 133.5,19.2 134.8,20.3C136.1,21.5 138.3,22.0 140.0,22.9C141.7,23.9 143.8,24.7 145.2,25.9C146.6,27.2 147.4,28.9 148.3,30.2C149.2,31.6 149.7,32.8 150.4,33.8C151.2,34.7 149.5,35.4 152.8,35.8C156.1,36.1 167.1,43.4 170.0,35.8C172.9,28.1 180.5,-2.4 170.0,-10.0C159.5,-17.6 117.4,-11.3 106.9,-10.0C96.4,-8.7 105.7,-4.4 106.9,-2.2Z" fill="#b39b39"/>
<path d="M124.3,-2.2C124.9,0.2 126.6,2.9 127.8,4.8C129.0,6.6 130.6,7.3 131.3,9.1C132.0,10.8 131.6,13.1 132.2,15.2C132.8,17.2 133.5,19.8 134.8,21.2C136.1,22.7 138.4,23.1 140.0,23.8C141.6,24.6 143.1,24.8 144.4,25.7C145.7,26.5 146.8,27.8 147.8,28.9C148.8,30.0 149.6,31.4 150.4,32.2C151.2,33.1 149.5,33.5 152.8,33.8C156.1,34.0 167.1,41.0 170.0,33.8C172.9,26.5 177.6,-2.7 170.0,-10.0C162.4,-17.3 131.9,-11.3 124.3,-10.0C116.7,-8.7 123.7,-4.7 124.3,-2.2Z" fill="#dfa56e"/>
<ellipse cx="138.2" cy="14.8" rx="5.4" ry="4.6" fill="#f5b09f" transform="rotate(50 138.2 14.8)"/>
<ellipse cx="128.7" cy="36.2" rx="6.0" ry="4.5" fill="#848a3a" transform="rotate(20 128.7 36.2)"/>
<ellipse cx="130.7" cy="36.2" rx="3.2" ry="2.8" fill="#b39b39"/>
<ellipse cx="126.4" cy="33.4" rx="1.4" ry="1.3" fill="#eeeeee"/>
<ellipse cx="130.3" cy="36.5" rx="1.6" ry="2.0" fill="#eeeeee"/>
<ellipse cx="132.9" cy="44.7" rx="1.2" ry="1.1" fill="#eeeeee"/>
<ellipse cx="137.7" cy="44.0" rx="1.0" ry="1.0" fill="#eeeeee"/>
<ellipse cx="131.6" cy="52.1" rx="1.5" ry="1.4" fill="#eeeeee"/>
<g stroke="#ffffff" stroke-width="0.6" fill="none" opacity="0.45"><path stroke-dasharray="1.5 1.0" d="M84.0,5.6C78.2,-4.3 88.6,6.2 91.1,6.7C93.6,7.2 96.3,7.9 99.0,8.8C101.7,9.7 104.8,10.9 107.1,11.9C109.4,12.9 111.2,13.8 113.0,15.0C114.8,16.2 116.4,17.2 118.1,18.9C119.8,20.6 121.3,22.6 123.1,25.1C124.8,27.6 127.1,31.5 128.6,34.1C130.1,36.7 131.4,38.8 132.1,40.6C132.8,42.4 132.7,43.0 132.6,45.1C132.5,47.2 131.9,50.6 131.3,53.1C130.7,55.6 129.9,57.9 129.0,60.0C128.1,62.1 133.5,75.1 126.0,66.0" fill="none"/><line stroke-dasharray="1.4 1.0" x1="86.8" y1="61.0" x2="160.6" y2="-33.5"/></g>
</g>
<polygon points="129.2,65.4 137.3,63.4 144.4,63.8 153.4,65.4 153.4,75.4 137.3,72.4 133.3,74.4 130.2,72.4" fill="#2e6b5e"/>
<g clip-path="url(#wk)">
<polygon points="146.4,68.4 153.4,68.4 153.4,77.5 146.4,77.5" fill="#848a3a"/>
<polygon points="128.2,68.4 137.3,68.4 137.3,77.5 128.2,77.5" fill="#547c4d"/>
</g>
<path d="M76.8,40.5C77.5,39.4 79.4,39.3 80.9,39.4C82.4,39.6 85.0,40.4 85.9,41.5C86.9,42.5 88.0,45.2 86.5,45.9C85.0,46.6 78.5,46.8 76.8,45.9C75.2,45.0 76.2,41.5 76.8,40.5Z" fill="#dfa56e"/>
<polygon points="148.4,79.2 151.4,79.2 151.4,81.8 149.0,81.8" fill="#b39b39"/>
<ellipse cx="45.1" cy="32.2" rx="0.6" ry="0.6" fill="#d6d6d6"/>
<ellipse cx="46.1" cy="36.3" rx="0.6" ry="0.6" fill="#d6d6d6"/>
<ellipse cx="44.7" cy="40.3" rx="0.6" ry="0.6" fill="#d6d6d6"/>
<g stroke="#ffffff" stroke-width="0.5" fill="none" opacity="0.16" stroke-dasharray="1.3 0.9">
<circle cx="74.5" cy="76.8" r="17.0"/>
<circle cx="74.5" cy="76.8" r="34.3"/>
<circle cx="74.5" cy="76.8" r="52.1"/>
<circle cx="74.5" cy="76.8" r="70.8"/>
<line x1="74.2" y1="68.8" x2="69.6" y2="-63.1"/>
<line x1="79.4" y1="70.5" x2="160.6" y2="-33.5"/>
<line x1="82.3" y1="75.1" x2="211.4" y2="47.7"/>
<line x1="81.5" y1="80.6" x2="198.1" y2="142.5"/>
<line x1="77.4" y1="84.2" x2="126.9" y2="206.6"/>
<line x1="72.0" y1="84.4" x2="31.2" y2="209.9"/>
<line x1="67.7" y1="81.0" x2="-44.3" y2="151.0"/>
<line x1="66.5" y1="75.7" x2="-64.2" y2="57.3"/>
<line x1="69.1" y1="70.9" x2="-19.2" y2="-27.2"/>
</g>
</g></g>
<text x="5.4" y="11.1" font-size="8.4" font-weight="bold" fill="#111">(f)</text>
<text transform="translate(149.4 105.5) scale(1.053 1)" font-size="7.5" font-weight="bold" text-anchor="end" fill="#111">WOA23</text>
<text transform="translate(149.5 113.9) scale(1.046 1)" font-size="6.5" font-weight="bold" text-anchor="end" fill="#111">(August 1965–2022, 200 m)</text>
</g>
<rect x="466.3" y="6.90" width="8.4" height="11.72" fill="#041659"/>
<rect x="466.3" y="18.57" width="8.4" height="11.72" fill="#123f5f"/>
<rect x="466.3" y="30.24" width="8.4" height="11.72" fill="#1a5963"/>
<rect x="466.3" y="41.91" width="8.4" height="11.72" fill="#2e6b5e"/>
<rect x="466.3" y="53.58" width="8.4" height="11.72" fill="#547c4d"/>
<rect x="466.3" y="65.25" width="8.4" height="11.72" fill="#848a3a"/>
<rect x="466.3" y="76.92" width="8.4" height="11.72" fill="#b39b39"/>
<rect x="466.3" y="88.59" width="8.4" height="11.72" fill="#dfa56e"/>
<rect x="466.3" y="100.26" width="8.4" height="11.72" fill="#f5b09f"/>
<rect x="466.3" y="111.93" width="8.4" height="5.88" fill="#fdd9d6"/>
<rect x="466.3" y="117.77" width="8.4" height="5.88" fill="#ffffff"/>
<rect x="466.3" y="6.90" width="8.4" height="116.70" fill="none" stroke="#333" stroke-width="0.4"/>
<text x="477.2" y="8.90" font-size="4.8" fill="#1c1c1c">50</text>
<text x="477.2" y="20.57" font-size="4.8" fill="#1c1c1c">45</text>
<text x="477.2" y="32.24" font-size="4.8" fill="#1c1c1c">40</text>
<text x="477.2" y="43.91" font-size="4.8" fill="#1c1c1c">35</text>
<text x="477.2" y="55.58" font-size="4.8" fill="#1c1c1c">30</text>
<text x="477.2" y="67.25" font-size="4.8" fill="#1c1c1c">25</text>
<text x="477.2" y="78.92" font-size="4.8" fill="#1c1c1c">20</text>
<text x="477.2" y="90.59" font-size="4.8" fill="#1c1c1c">15</text>
<text x="477.2" y="102.26" font-size="4.8" fill="#1c1c1c">10</text>
<text x="477.2" y="113.93" font-size="4.8" fill="#1c1c1c">5</text>
<text x="477.2" y="119.77" font-size="4.8" fill="#1c1c1c">2.5</text>
<text x="477.2" y="125.60" font-size="4.8" fill="#1c1c1c">0</text>
<text transform="translate(494.3 65.2) rotate(-90)" font-size="7.6" font-weight="bold" text-anchor="middle" fill="#111">NO3+NO2 [<tspan font-weight="normal" font-style="italic" font-size="7">μ</tspan>M]</text>
<rect x="466.3" y="128.25" width="8.4" height="11.72" fill="#041659"/>
<rect x="466.3" y="139.92" width="8.4" height="11.72" fill="#123f5f"/>
<rect x="466.3" y="151.59" width="8.4" height="11.72" fill="#1a5963"/>
<rect x="466.3" y="163.26" width="8.4" height="11.72" fill="#2e6b5e"/>
<rect x="466.3" y="174.93" width="8.4" height="11.72" fill="#547c4d"/>
<rect x="466.3" y="186.60" width="8.4" height="11.72" fill="#848a3a"/>
<rect x="466.3" y="198.27" width="8.4" height="11.72" fill="#b39b39"/>
<rect x="466.3" y="209.94" width="8.4" height="11.72" fill="#dfa56e"/>
<rect x="466.3" y="221.61" width="8.4" height="11.72" fill="#f5b09f"/>
<rect x="466.3" y="233.28" width="8.4" height="5.88" fill="#fdd9d6"/>
<rect x="466.3" y="239.11" width="8.4" height="5.88" fill="#ffffff"/>
<rect x="466.3" y="128.25" width="8.4" height="116.70" fill="none" stroke="#333" stroke-width="0.4"/>
<text x="477.2" y="130.25" font-size="4.8" fill="#1c1c1c">50</text>
<text x="477.2" y="141.92" font-size="4.8" fill="#1c1c1c">45</text>
<text x="477.2" y="153.59" font-size="4.8" fill="#1c1c1c">40</text>
<text x="477.2" y="165.26" font-size="4.8" fill="#1c1c1c">35</text>
<text x="477.2" y="176.93" font-size="4.8" fill="#1c1c1c">30</text>
<text x="477.2" y="188.60" font-size="4.8" fill="#1c1c1c">25</text>
<text x="477.2" y="200.27" font-size="4.8" fill="#1c1c1c">20</text>
<text x="477.2" y="211.94" font-size="4.8" fill="#1c1c1c">15</text>
<text x="477.2" y="223.61" font-size="4.8" fill="#1c1c1c">10</text>
<text x="477.2" y="235.28" font-size="4.8" fill="#1c1c1c">5</text>
<text x="477.2" y="241.11" font-size="4.8" fill="#1c1c1c">2.5</text>
<text x="477.2" y="246.95" font-size="4.8" fill="#1c1c1c">0</text>
<text transform="translate(494.3 186.6) rotate(-90)" font-size="7.6" font-weight="bold" text-anchor="middle" fill="#111">NO3+NO2 [<tspan font-weight="normal" font-style="italic" font-size="7">μ</tspan>M]</text>
</svg></body></html>
